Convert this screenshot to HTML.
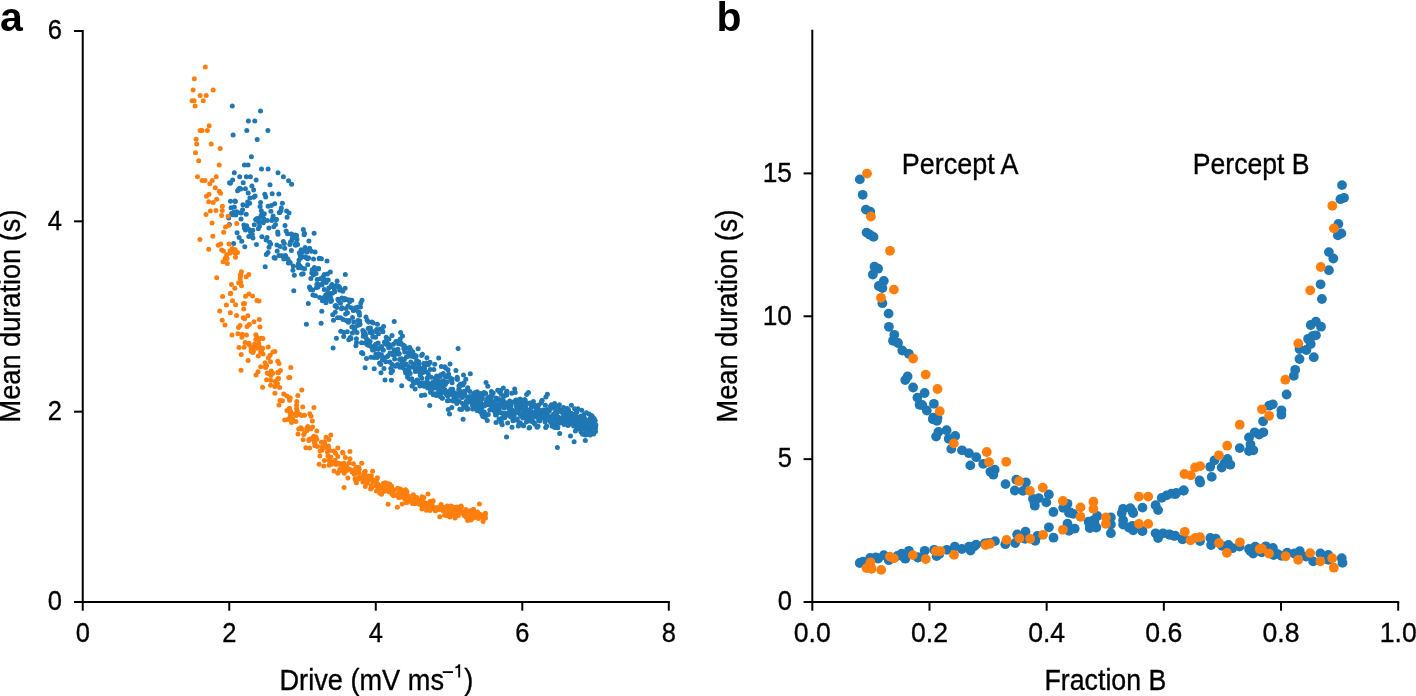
<!DOCTYPE html>
<html><head><meta charset="utf-8"><style>
html,body{margin:0;padding:0;background:#fff;overflow:hidden;}
svg{display:block;will-change:transform;font-family:"Liberation Sans",sans-serif;}
</style></head><body>
<svg width="1416" height="696" viewBox="0 0 1416 696" font-family="Liberation Sans, sans-serif">
<rect width="1416" height="696" fill="#fff"/>
<g fill="#1f77b4"><circle cx="232.3" cy="105.9" r="2.5"/><circle cx="260.5" cy="111.0" r="2.5"/><circle cx="248.4" cy="121.0" r="2.5"/><circle cx="254.8" cy="121.0" r="2.5"/><circle cx="233.1" cy="135.1" r="2.5"/><circle cx="246.8" cy="130.5" r="2.5"/><circle cx="267.9" cy="130.5" r="2.5"/><circle cx="257.2" cy="139.5" r="2.5"/><circle cx="251.4" cy="156.8" r="2.5"/><circle cx="244.4" cy="165.1" r="2.5"/><circle cx="248.0" cy="165.1" r="2.5"/><circle cx="261.5" cy="169.1" r="2.5"/><circle cx="268.1" cy="169.1" r="2.5"/><circle cx="234.3" cy="172.7" r="2.5"/><circle cx="239.7" cy="176.7" r="2.5"/><circle cx="246.4" cy="176.7" r="2.5"/><circle cx="250.4" cy="176.7" r="2.5"/><circle cx="278.0" cy="172.7" r="2.5"/><circle cx="283.4" cy="176.7" r="2.5"/><circle cx="288.6" cy="180.8" r="2.5"/><circle cx="291.6" cy="184.2" r="2.5"/><circle cx="579.1" cy="419.8" r="2.5"/><circle cx="467.8" cy="387.7" r="2.5"/><circle cx="503.7" cy="417.5" r="2.5"/><circle cx="424.8" cy="394.9" r="2.5"/><circle cx="398.5" cy="343.7" r="2.5"/><circle cx="346.1" cy="308.5" r="2.5"/><circle cx="282.4" cy="203.2" r="2.5"/><circle cx="477.2" cy="391.8" r="2.5"/><circle cx="362.2" cy="352.7" r="2.5"/><circle cx="512.9" cy="420.7" r="2.5"/><circle cx="550.8" cy="421.6" r="2.5"/><circle cx="484.9" cy="417.3" r="2.5"/><circle cx="542.1" cy="400.2" r="2.5"/><circle cx="530.3" cy="403.0" r="2.5"/><circle cx="255.6" cy="219.5" r="2.5"/><circle cx="561.2" cy="420.3" r="2.5"/><circle cx="486.3" cy="403.7" r="2.5"/><circle cx="266.1" cy="240.1" r="2.5"/><circle cx="458.7" cy="389.6" r="2.5"/><circle cx="390.4" cy="347.1" r="2.5"/><circle cx="371.1" cy="346.4" r="2.5"/><circle cx="362.0" cy="300.2" r="2.5"/><circle cx="546.6" cy="425.9" r="2.5"/><circle cx="591.2" cy="421.1" r="2.5"/><circle cx="464.1" cy="382.7" r="2.5"/><circle cx="354.8" cy="328.9" r="2.5"/><circle cx="261.2" cy="215.2" r="2.5"/><circle cx="403.5" cy="365.8" r="2.5"/><circle cx="292.0" cy="240.1" r="2.5"/><circle cx="298.5" cy="267.8" r="2.5"/><circle cx="513.8" cy="415.8" r="2.5"/><circle cx="447.4" cy="400.8" r="2.5"/><circle cx="337.9" cy="299.3" r="2.5"/><circle cx="500.9" cy="402.8" r="2.5"/><circle cx="558.6" cy="417.3" r="2.5"/><circle cx="545.4" cy="405.2" r="2.5"/><circle cx="491.0" cy="409.5" r="2.5"/><circle cx="480.6" cy="403.1" r="2.5"/><circle cx="503.3" cy="388.0" r="2.5"/><circle cx="434.5" cy="393.8" r="2.5"/><circle cx="371.9" cy="321.9" r="2.5"/><circle cx="526.6" cy="394.4" r="2.5"/><circle cx="443.7" cy="392.1" r="2.5"/><circle cx="359.0" cy="324.7" r="2.5"/><circle cx="274.1" cy="257.5" r="2.5"/><circle cx="523.2" cy="403.7" r="2.5"/><circle cx="359.2" cy="312.5" r="2.5"/><circle cx="415.8" cy="367.7" r="2.5"/><circle cx="315.1" cy="251.9" r="2.5"/><circle cx="290.5" cy="242.0" r="2.5"/><circle cx="363.6" cy="333.6" r="2.5"/><circle cx="498.5" cy="410.6" r="2.5"/><circle cx="272.8" cy="218.5" r="2.5"/><circle cx="275.5" cy="224.4" r="2.5"/><circle cx="570.5" cy="436.0" r="2.5"/><circle cx="472.8" cy="398.6" r="2.5"/><circle cx="405.1" cy="370.2" r="2.5"/><circle cx="528.7" cy="414.0" r="2.5"/><circle cx="274.7" cy="203.7" r="2.5"/><circle cx="506.7" cy="395.1" r="2.5"/><circle cx="595.5" cy="428.1" r="2.5"/><circle cx="497.8" cy="405.6" r="2.5"/><circle cx="453.8" cy="398.8" r="2.5"/><circle cx="518.3" cy="425.9" r="2.5"/><circle cx="438.3" cy="387.4" r="2.5"/><circle cx="338.4" cy="285.9" r="2.5"/><circle cx="451.3" cy="380.0" r="2.5"/><circle cx="295.1" cy="244.4" r="2.5"/><circle cx="552.1" cy="426.3" r="2.5"/><circle cx="270.9" cy="211.2" r="2.5"/><circle cx="577.3" cy="417.0" r="2.5"/><circle cx="402.2" cy="362.8" r="2.5"/><circle cx="261.3" cy="210.8" r="2.5"/><circle cx="528.5" cy="410.1" r="2.5"/><circle cx="264.3" cy="213.8" r="2.5"/><circle cx="506.5" cy="437.1" r="2.5"/><circle cx="534.4" cy="406.6" r="2.5"/><circle cx="540.8" cy="411.0" r="2.5"/><circle cx="406.4" cy="356.9" r="2.5"/><circle cx="269.0" cy="247.2" r="2.5"/><circle cx="292.6" cy="237.2" r="2.5"/><circle cx="230.4" cy="183.2" r="2.5"/><circle cx="516.9" cy="411.2" r="2.5"/><circle cx="593.5" cy="424.4" r="2.5"/><circle cx="349.5" cy="300.0" r="2.5"/><circle cx="334.4" cy="288.7" r="2.5"/><circle cx="298.4" cy="263.7" r="2.5"/><circle cx="532.7" cy="415.4" r="2.5"/><circle cx="588.7" cy="422.8" r="2.5"/><circle cx="505.2" cy="404.4" r="2.5"/><circle cx="402.5" cy="336.0" r="2.5"/><circle cx="405.6" cy="372.7" r="2.5"/><circle cx="516.5" cy="407.1" r="2.5"/><circle cx="424.5" cy="368.3" r="2.5"/><circle cx="427.4" cy="377.9" r="2.5"/><circle cx="323.0" cy="277.0" r="2.5"/><circle cx="348.8" cy="339.8" r="2.5"/><circle cx="526.3" cy="421.9" r="2.5"/><circle cx="574.7" cy="416.7" r="2.5"/><circle cx="527.2" cy="403.5" r="2.5"/><circle cx="574.0" cy="418.9" r="2.5"/><circle cx="563.9" cy="412.4" r="2.5"/><circle cx="370.9" cy="357.2" r="2.5"/><circle cx="331.6" cy="300.5" r="2.5"/><circle cx="397.5" cy="364.8" r="2.5"/><circle cx="566.6" cy="421.5" r="2.5"/><circle cx="575.1" cy="418.5" r="2.5"/><circle cx="565.7" cy="422.5" r="2.5"/><circle cx="495.8" cy="398.1" r="2.5"/><circle cx="373.7" cy="349.7" r="2.5"/><circle cx="379.8" cy="356.0" r="2.5"/><circle cx="415.3" cy="371.5" r="2.5"/><circle cx="346.9" cy="299.5" r="2.5"/><circle cx="484.0" cy="392.6" r="2.5"/><circle cx="457.2" cy="377.3" r="2.5"/><circle cx="507.7" cy="422.9" r="2.5"/><circle cx="373.2" cy="323.0" r="2.5"/><circle cx="585.9" cy="422.1" r="2.5"/><circle cx="392.0" cy="335.5" r="2.5"/><circle cx="582.6" cy="434.2" r="2.5"/><circle cx="533.2" cy="422.1" r="2.5"/><circle cx="361.5" cy="342.7" r="2.5"/><circle cx="374.2" cy="368.7" r="2.5"/><circle cx="557.4" cy="447.5" r="2.5"/><circle cx="573.1" cy="420.0" r="2.5"/><circle cx="258.3" cy="228.8" r="2.5"/><circle cx="507.8" cy="405.9" r="2.5"/><circle cx="303.2" cy="273.8" r="2.5"/><circle cx="375.8" cy="353.9" r="2.5"/><circle cx="392.5" cy="370.7" r="2.5"/><circle cx="580.7" cy="416.3" r="2.5"/><circle cx="493.2" cy="392.9" r="2.5"/><circle cx="461.3" cy="394.7" r="2.5"/><circle cx="369.4" cy="343.9" r="2.5"/><circle cx="342.0" cy="307.7" r="2.5"/><circle cx="510.9" cy="414.8" r="2.5"/><circle cx="561.0" cy="410.7" r="2.5"/><circle cx="560.5" cy="421.4" r="2.5"/><circle cx="585.0" cy="429.5" r="2.5"/><circle cx="232.6" cy="179.9" r="2.5"/><circle cx="410.8" cy="362.1" r="2.5"/><circle cx="392.7" cy="354.8" r="2.5"/><circle cx="420.2" cy="368.3" r="2.5"/><circle cx="541.7" cy="401.3" r="2.5"/><circle cx="484.7" cy="414.5" r="2.5"/><circle cx="360.8" cy="303.1" r="2.5"/><circle cx="443.9" cy="383.2" r="2.5"/><circle cx="297.6" cy="244.4" r="2.5"/><circle cx="413.8" cy="364.1" r="2.5"/><circle cx="265.7" cy="196.9" r="2.5"/><circle cx="253.7" cy="189.9" r="2.5"/><circle cx="509.1" cy="413.0" r="2.5"/><circle cx="264.8" cy="194.3" r="2.5"/><circle cx="512.1" cy="410.0" r="2.5"/><circle cx="539.7" cy="421.1" r="2.5"/><circle cx="595.5" cy="431.5" r="2.5"/><circle cx="514.9" cy="420.1" r="2.5"/><circle cx="584.9" cy="433.9" r="2.5"/><circle cx="542.9" cy="417.3" r="2.5"/><circle cx="400.8" cy="342.9" r="2.5"/><circle cx="541.8" cy="415.4" r="2.5"/><circle cx="530.7" cy="412.3" r="2.5"/><circle cx="572.7" cy="420.6" r="2.5"/><circle cx="231.1" cy="207.7" r="2.5"/><circle cx="342.3" cy="290.0" r="2.5"/><circle cx="294.5" cy="237.4" r="2.5"/><circle cx="510.1" cy="416.6" r="2.5"/><circle cx="358.0" cy="307.1" r="2.5"/><circle cx="229.4" cy="224.4" r="2.5"/><circle cx="267.0" cy="237.4" r="2.5"/><circle cx="329.5" cy="293.6" r="2.5"/><circle cx="339.3" cy="287.4" r="2.5"/><circle cx="479.3" cy="401.1" r="2.5"/><circle cx="351.3" cy="307.7" r="2.5"/><circle cx="561.4" cy="418.2" r="2.5"/><circle cx="327.0" cy="261.1" r="2.5"/><circle cx="569.0" cy="415.6" r="2.5"/><circle cx="338.7" cy="301.0" r="2.5"/><circle cx="412.8" cy="352.1" r="2.5"/><circle cx="319.7" cy="297.4" r="2.5"/><circle cx="394.6" cy="359.1" r="2.5"/><circle cx="576.0" cy="417.0" r="2.5"/><circle cx="460.4" cy="391.2" r="2.5"/><circle cx="505.5" cy="413.2" r="2.5"/><circle cx="472.7" cy="409.1" r="2.5"/><circle cx="489.1" cy="397.3" r="2.5"/><circle cx="510.4" cy="411.5" r="2.5"/><circle cx="538.6" cy="420.6" r="2.5"/><circle cx="534.8" cy="412.5" r="2.5"/><circle cx="516.0" cy="403.7" r="2.5"/><circle cx="459.7" cy="386.3" r="2.5"/><circle cx="494.6" cy="402.4" r="2.5"/><circle cx="423.7" cy="363.4" r="2.5"/><circle cx="537.1" cy="427.2" r="2.5"/><circle cx="309.5" cy="286.9" r="2.5"/><circle cx="283.3" cy="241.6" r="2.5"/><circle cx="471.9" cy="400.7" r="2.5"/><circle cx="494.2" cy="410.3" r="2.5"/><circle cx="511.0" cy="405.8" r="2.5"/><circle cx="583.9" cy="414.4" r="2.5"/><circle cx="585.3" cy="440.4" r="2.5"/><circle cx="553.8" cy="415.7" r="2.5"/><circle cx="349.1" cy="320.5" r="2.5"/><circle cx="288.4" cy="263.1" r="2.5"/><circle cx="430.8" cy="391.6" r="2.5"/><circle cx="584.1" cy="427.0" r="2.5"/><circle cx="551.9" cy="423.6" r="2.5"/><circle cx="441.5" cy="393.2" r="2.5"/><circle cx="499.3" cy="408.4" r="2.5"/><circle cx="518.0" cy="411.9" r="2.5"/><circle cx="312.6" cy="290.0" r="2.5"/><circle cx="554.6" cy="403.5" r="2.5"/><circle cx="478.2" cy="397.2" r="2.5"/><circle cx="345.1" cy="288.3" r="2.5"/><circle cx="385.0" cy="379.9" r="2.5"/><circle cx="318.6" cy="268.4" r="2.5"/><circle cx="424.1" cy="386.3" r="2.5"/><circle cx="519.1" cy="405.9" r="2.5"/><circle cx="585.6" cy="435.1" r="2.5"/><circle cx="337.1" cy="281.0" r="2.5"/><circle cx="413.5" cy="354.4" r="2.5"/><circle cx="345.3" cy="274.6" r="2.5"/><circle cx="509.7" cy="401.0" r="2.5"/><circle cx="525.7" cy="412.2" r="2.5"/><circle cx="584.6" cy="423.7" r="2.5"/><circle cx="412.0" cy="386.1" r="2.5"/><circle cx="417.1" cy="379.9" r="2.5"/><circle cx="440.4" cy="396.7" r="2.5"/><circle cx="497.2" cy="409.1" r="2.5"/><circle cx="305.8" cy="257.5" r="2.5"/><circle cx="594.5" cy="420.7" r="2.5"/><circle cx="491.4" cy="391.4" r="2.5"/><circle cx="498.3" cy="398.7" r="2.5"/><circle cx="276.1" cy="219.6" r="2.5"/><circle cx="425.3" cy="382.9" r="2.5"/><circle cx="377.4" cy="324.3" r="2.5"/><circle cx="520.9" cy="400.1" r="2.5"/><circle cx="518.6" cy="413.1" r="2.5"/><circle cx="492.0" cy="395.5" r="2.5"/><circle cx="454.2" cy="396.7" r="2.5"/><circle cx="276.4" cy="219.4" r="2.5"/><circle cx="503.5" cy="401.1" r="2.5"/><circle cx="333.5" cy="320.3" r="2.5"/><circle cx="452.6" cy="389.3" r="2.5"/><circle cx="387.7" cy="343.4" r="2.5"/><circle cx="260.1" cy="206.4" r="2.5"/><circle cx="569.7" cy="415.3" r="2.5"/><circle cx="556.5" cy="418.9" r="2.5"/><circle cx="488.2" cy="404.7" r="2.5"/><circle cx="434.7" cy="364.2" r="2.5"/><circle cx="350.0" cy="338.7" r="2.5"/><circle cx="540.5" cy="416.3" r="2.5"/><circle cx="421.1" cy="382.9" r="2.5"/><circle cx="413.1" cy="381.6" r="2.5"/><circle cx="536.3" cy="414.4" r="2.5"/><circle cx="418.1" cy="348.8" r="2.5"/><circle cx="592.1" cy="416.0" r="2.5"/><circle cx="283.0" cy="256.0" r="2.5"/><circle cx="387.2" cy="344.3" r="2.5"/><circle cx="437.3" cy="393.4" r="2.5"/><circle cx="527.7" cy="420.9" r="2.5"/><circle cx="463.0" cy="385.1" r="2.5"/><circle cx="552.9" cy="418.9" r="2.5"/><circle cx="471.8" cy="398.0" r="2.5"/><circle cx="321.8" cy="311.3" r="2.5"/><circle cx="544.9" cy="420.1" r="2.5"/><circle cx="360.1" cy="324.3" r="2.5"/><circle cx="407.6" cy="377.2" r="2.5"/><circle cx="279.3" cy="212.6" r="2.5"/><circle cx="235.3" cy="201.5" r="2.5"/><circle cx="322.0" cy="284.9" r="2.5"/><circle cx="307.7" cy="264.8" r="2.5"/><circle cx="462.0" cy="397.4" r="2.5"/><circle cx="277.2" cy="250.9" r="2.5"/><circle cx="574.5" cy="408.7" r="2.5"/><circle cx="517.2" cy="407.0" r="2.5"/><circle cx="411.5" cy="356.3" r="2.5"/><circle cx="305.1" cy="247.4" r="2.5"/><circle cx="529.6" cy="427.4" r="2.5"/><circle cx="289.4" cy="261.9" r="2.5"/><circle cx="357.4" cy="325.5" r="2.5"/><circle cx="429.3" cy="363.2" r="2.5"/><circle cx="368.6" cy="322.1" r="2.5"/><circle cx="348.4" cy="322.3" r="2.5"/><circle cx="594.4" cy="430.9" r="2.5"/><circle cx="347.4" cy="312.7" r="2.5"/><circle cx="566.1" cy="419.5" r="2.5"/><circle cx="583.6" cy="423.8" r="2.5"/><circle cx="583.2" cy="428.6" r="2.5"/><circle cx="448.0" cy="369.8" r="2.5"/><circle cx="300.2" cy="255.4" r="2.5"/><circle cx="318.0" cy="286.9" r="2.5"/><circle cx="462.6" cy="403.6" r="2.5"/><circle cx="346.3" cy="320.5" r="2.5"/><circle cx="577.9" cy="408.7" r="2.5"/><circle cx="249.6" cy="203.3" r="2.5"/><circle cx="339.4" cy="286.9" r="2.5"/><circle cx="432.9" cy="382.2" r="2.5"/><circle cx="540.4" cy="414.9" r="2.5"/><circle cx="586.0" cy="425.9" r="2.5"/><circle cx="565.4" cy="412.3" r="2.5"/><circle cx="433.8" cy="369.4" r="2.5"/><circle cx="413.9" cy="383.2" r="2.5"/><circle cx="515.6" cy="411.0" r="2.5"/><circle cx="414.3" cy="356.9" r="2.5"/><circle cx="451.4" cy="393.9" r="2.5"/><circle cx="525.2" cy="400.3" r="2.5"/><circle cx="379.5" cy="363.1" r="2.5"/><circle cx="356.5" cy="342.4" r="2.5"/><circle cx="482.0" cy="398.0" r="2.5"/><circle cx="383.6" cy="326.4" r="2.5"/><circle cx="284.7" cy="248.3" r="2.5"/><circle cx="245.5" cy="230.1" r="2.5"/><circle cx="485.3" cy="405.2" r="2.5"/><circle cx="458.1" cy="348.6" r="2.5"/><circle cx="535.5" cy="416.0" r="2.5"/><circle cx="438.7" cy="357.9" r="2.5"/><circle cx="536.1" cy="406.8" r="2.5"/><circle cx="459.2" cy="401.5" r="2.5"/><circle cx="422.4" cy="354.3" r="2.5"/><circle cx="497.7" cy="390.2" r="2.5"/><circle cx="473.5" cy="395.7" r="2.5"/><circle cx="340.8" cy="331.2" r="2.5"/><circle cx="461.7" cy="409.4" r="2.5"/><circle cx="521.2" cy="405.9" r="2.5"/><circle cx="568.0" cy="425.4" r="2.5"/><circle cx="285.8" cy="256.4" r="2.5"/><circle cx="539.4" cy="415.2" r="2.5"/><circle cx="455.1" cy="397.4" r="2.5"/><circle cx="584.4" cy="418.0" r="2.5"/><circle cx="324.9" cy="297.6" r="2.5"/><circle cx="500.8" cy="422.2" r="2.5"/><circle cx="463.1" cy="419.2" r="2.5"/><circle cx="456.5" cy="400.6" r="2.5"/><circle cx="400.6" cy="332.4" r="2.5"/><circle cx="415.5" cy="355.8" r="2.5"/><circle cx="552.7" cy="418.1" r="2.5"/><circle cx="562.2" cy="418.3" r="2.5"/><circle cx="366.0" cy="317.1" r="2.5"/><circle cx="245.4" cy="188.7" r="2.5"/><circle cx="352.5" cy="317.5" r="2.5"/><circle cx="358.4" cy="311.7" r="2.5"/><circle cx="394.2" cy="321.6" r="2.5"/><circle cx="557.8" cy="427.7" r="2.5"/><circle cx="449.5" cy="414.1" r="2.5"/><circle cx="332.7" cy="314.7" r="2.5"/><circle cx="287.1" cy="217.2" r="2.5"/><circle cx="306.2" cy="249.4" r="2.5"/><circle cx="570.9" cy="415.4" r="2.5"/><circle cx="476.5" cy="400.1" r="2.5"/><circle cx="554.9" cy="413.5" r="2.5"/><circle cx="425.9" cy="371.8" r="2.5"/><circle cx="519.8" cy="403.2" r="2.5"/><circle cx="425.5" cy="384.8" r="2.5"/><circle cx="560.2" cy="422.9" r="2.5"/><circle cx="522.8" cy="417.9" r="2.5"/><circle cx="567.8" cy="418.4" r="2.5"/><circle cx="474.9" cy="404.3" r="2.5"/><circle cx="341.8" cy="297.9" r="2.5"/><circle cx="556.3" cy="410.0" r="2.5"/><circle cx="389.4" cy="346.5" r="2.5"/><circle cx="311.5" cy="251.3" r="2.5"/><circle cx="592.4" cy="422.6" r="2.5"/><circle cx="344.8" cy="298.4" r="2.5"/><circle cx="450.7" cy="390.2" r="2.5"/><circle cx="351.9" cy="327.0" r="2.5"/><circle cx="291.4" cy="250.6" r="2.5"/><circle cx="428.2" cy="364.7" r="2.5"/><circle cx="399.6" cy="359.5" r="2.5"/><circle cx="540.0" cy="410.6" r="2.5"/><circle cx="570.1" cy="417.3" r="2.5"/><circle cx="422.5" cy="372.2" r="2.5"/><circle cx="501.9" cy="412.9" r="2.5"/><circle cx="343.7" cy="336.5" r="2.5"/><circle cx="557.6" cy="427.1" r="2.5"/><circle cx="590.4" cy="427.5" r="2.5"/><circle cx="350.3" cy="337.4" r="2.5"/><circle cx="464.8" cy="392.9" r="2.5"/><circle cx="276.9" cy="244.9" r="2.5"/><circle cx="512.6" cy="418.1" r="2.5"/><circle cx="545.9" cy="397.0" r="2.5"/><circle cx="450.2" cy="391.6" r="2.5"/><circle cx="487.8" cy="386.2" r="2.5"/><circle cx="593.8" cy="424.5" r="2.5"/><circle cx="576.5" cy="428.9" r="2.5"/><circle cx="404.7" cy="351.9" r="2.5"/><circle cx="293.8" cy="290.7" r="2.5"/><circle cx="502.5" cy="417.5" r="2.5"/><circle cx="343.9" cy="332.5" r="2.5"/><circle cx="242.9" cy="204.7" r="2.5"/><circle cx="555.9" cy="424.8" r="2.5"/><circle cx="408.0" cy="348.3" r="2.5"/><circle cx="389.8" cy="362.1" r="2.5"/><circle cx="314.1" cy="233.3" r="2.5"/><circle cx="562.9" cy="422.1" r="2.5"/><circle cx="570.3" cy="422.7" r="2.5"/><circle cx="239.1" cy="237.4" r="2.5"/><circle cx="465.2" cy="406.4" r="2.5"/><circle cx="324.3" cy="274.5" r="2.5"/><circle cx="481.9" cy="413.9" r="2.5"/><circle cx="513.6" cy="415.1" r="2.5"/><circle cx="265.2" cy="266.7" r="2.5"/><circle cx="442.4" cy="398.3" r="2.5"/><circle cx="422.9" cy="382.9" r="2.5"/><circle cx="372.5" cy="349.9" r="2.5"/><circle cx="499.7" cy="402.1" r="2.5"/><circle cx="285.4" cy="255.6" r="2.5"/><circle cx="231.7" cy="213.5" r="2.5"/><circle cx="314.4" cy="267.5" r="2.5"/><circle cx="230.5" cy="201.3" r="2.5"/><circle cx="243.9" cy="225.0" r="2.5"/><circle cx="537.3" cy="416.2" r="2.5"/><circle cx="341.5" cy="308.7" r="2.5"/><circle cx="475.9" cy="401.2" r="2.5"/><circle cx="351.0" cy="338.5" r="2.5"/><circle cx="335.1" cy="306.0" r="2.5"/><circle cx="430.2" cy="369.4" r="2.5"/><circle cx="490.2" cy="405.1" r="2.5"/><circle cx="312.9" cy="295.0" r="2.5"/><circle cx="297.0" cy="239.3" r="2.5"/><circle cx="519.6" cy="409.3" r="2.5"/><circle cx="482.3" cy="398.8" r="2.5"/><circle cx="241.4" cy="212.9" r="2.5"/><circle cx="286.1" cy="230.9" r="2.5"/><circle cx="455.5" cy="393.7" r="2.5"/><circle cx="496.0" cy="422.6" r="2.5"/><circle cx="562.7" cy="412.6" r="2.5"/><circle cx="431.6" cy="388.8" r="2.5"/><circle cx="590.9" cy="415.2" r="2.5"/><circle cx="362.9" cy="353.8" r="2.5"/><circle cx="473.6" cy="394.4" r="2.5"/><circle cx="485.5" cy="404.0" r="2.5"/><circle cx="504.7" cy="417.8" r="2.5"/><circle cx="527.5" cy="418.7" r="2.5"/><circle cx="520.1" cy="398.9" r="2.5"/><circle cx="246.6" cy="225.8" r="2.5"/><circle cx="522.1" cy="408.9" r="2.5"/><circle cx="578.7" cy="425.0" r="2.5"/><circle cx="405.7" cy="364.0" r="2.5"/><circle cx="591.5" cy="428.3" r="2.5"/><circle cx="325.1" cy="279.7" r="2.5"/><circle cx="233.6" cy="243.4" r="2.5"/><circle cx="587.2" cy="430.1" r="2.5"/><circle cx="524.7" cy="399.5" r="2.5"/><circle cx="524.3" cy="407.7" r="2.5"/><circle cx="237.6" cy="190.7" r="2.5"/><circle cx="423.2" cy="372.2" r="2.5"/><circle cx="435.6" cy="377.7" r="2.5"/><circle cx="301.9" cy="268.1" r="2.5"/><circle cx="268.9" cy="228.1" r="2.5"/><circle cx="249.9" cy="198.0" r="2.5"/><circle cx="421.6" cy="355.6" r="2.5"/><circle cx="345.6" cy="314.0" r="2.5"/><circle cx="432.6" cy="383.1" r="2.5"/><circle cx="544.1" cy="410.2" r="2.5"/><circle cx="507.4" cy="402.8" r="2.5"/><circle cx="384.5" cy="342.0" r="2.5"/><circle cx="459.8" cy="409.2" r="2.5"/><circle cx="457.0" cy="393.9" r="2.5"/><circle cx="524.4" cy="416.2" r="2.5"/><circle cx="530.4" cy="409.8" r="2.5"/><circle cx="556.8" cy="413.5" r="2.5"/><circle cx="519.5" cy="403.5" r="2.5"/><circle cx="355.9" cy="345.8" r="2.5"/><circle cx="547.4" cy="394.3" r="2.5"/><circle cx="437.5" cy="388.6" r="2.5"/><circle cx="268.0" cy="252.6" r="2.5"/><circle cx="578.4" cy="419.5" r="2.5"/><circle cx="541.1" cy="402.9" r="2.5"/><circle cx="285.0" cy="225.5" r="2.5"/><circle cx="466.0" cy="405.4" r="2.5"/><circle cx="517.7" cy="400.3" r="2.5"/><circle cx="439.2" cy="392.8" r="2.5"/><circle cx="316.9" cy="284.3" r="2.5"/><circle cx="343.1" cy="319.4" r="2.5"/><circle cx="431.7" cy="387.1" r="2.5"/><circle cx="515.2" cy="392.5" r="2.5"/><circle cx="281.4" cy="255.8" r="2.5"/><circle cx="448.9" cy="395.0" r="2.5"/><circle cx="443.3" cy="373.5" r="2.5"/><circle cx="384.0" cy="368.5" r="2.5"/><circle cx="238.6" cy="189.3" r="2.5"/><circle cx="280.9" cy="210.8" r="2.5"/><circle cx="535.2" cy="405.5" r="2.5"/><circle cx="492.9" cy="407.7" r="2.5"/><circle cx="531.3" cy="406.8" r="2.5"/><circle cx="445.4" cy="384.5" r="2.5"/><circle cx="531.8" cy="404.0" r="2.5"/><circle cx="517.3" cy="419.0" r="2.5"/><circle cx="351.8" cy="300.2" r="2.5"/><circle cx="304.1" cy="234.8" r="2.5"/><circle cx="330.7" cy="298.1" r="2.5"/><circle cx="526.8" cy="414.6" r="2.5"/><circle cx="491.1" cy="395.5" r="2.5"/><circle cx="382.4" cy="360.1" r="2.5"/><circle cx="300.0" cy="266.0" r="2.5"/><circle cx="329.8" cy="296.0" r="2.5"/><circle cx="320.7" cy="284.5" r="2.5"/><circle cx="305.4" cy="256.8" r="2.5"/><circle cx="573.4" cy="424.1" r="2.5"/><circle cx="386.2" cy="341.2" r="2.5"/><circle cx="564.7" cy="421.9" r="2.5"/><circle cx="299.0" cy="260.1" r="2.5"/><circle cx="382.9" cy="331.8" r="2.5"/><circle cx="514.7" cy="389.1" r="2.5"/><circle cx="271.7" cy="220.5" r="2.5"/><circle cx="323.6" cy="281.9" r="2.5"/><circle cx="448.3" cy="409.4" r="2.5"/><circle cx="582.0" cy="422.2" r="2.5"/><circle cx="444.2" cy="381.4" r="2.5"/><circle cx="554.2" cy="407.3" r="2.5"/><circle cx="289.0" cy="213.0" r="2.5"/><circle cx="548.7" cy="411.2" r="2.5"/><circle cx="426.6" cy="364.7" r="2.5"/><circle cx="419.6" cy="369.9" r="2.5"/><circle cx="325.9" cy="302.8" r="2.5"/><circle cx="293.2" cy="265.9" r="2.5"/><circle cx="445.2" cy="376.5" r="2.5"/><circle cx="478.9" cy="404.1" r="2.5"/><circle cx="561.8" cy="410.6" r="2.5"/><circle cx="589.0" cy="414.0" r="2.5"/><circle cx="590.6" cy="429.1" r="2.5"/><circle cx="279.7" cy="212.5" r="2.5"/><circle cx="377.1" cy="357.4" r="2.5"/><circle cx="471.0" cy="401.5" r="2.5"/><circle cx="537.8" cy="407.5" r="2.5"/><circle cx="367.6" cy="340.0" r="2.5"/><circle cx="488.3" cy="414.6" r="2.5"/><circle cx="237.1" cy="232.8" r="2.5"/><circle cx="408.5" cy="352.7" r="2.5"/><circle cx="423.9" cy="367.3" r="2.5"/><circle cx="440.1" cy="376.4" r="2.5"/><circle cx="403.8" cy="348.4" r="2.5"/><circle cx="295.7" cy="245.3" r="2.5"/><circle cx="234.3" cy="207.1" r="2.5"/><circle cx="427.7" cy="388.0" r="2.5"/><circle cx="567.5" cy="416.6" r="2.5"/><circle cx="335.2" cy="312.2" r="2.5"/><circle cx="270.6" cy="244.1" r="2.5"/><circle cx="554.7" cy="427.5" r="2.5"/><circle cx="372.9" cy="337.1" r="2.5"/><circle cx="539.3" cy="411.0" r="2.5"/><circle cx="386.3" cy="337.3" r="2.5"/><circle cx="297.7" cy="266.2" r="2.5"/><circle cx="468.9" cy="400.4" r="2.5"/><circle cx="374.0" cy="357.5" r="2.5"/><circle cx="509.6" cy="405.2" r="2.5"/><circle cx="301.1" cy="249.8" r="2.5"/><circle cx="353.3" cy="310.5" r="2.5"/><circle cx="439.5" cy="382.6" r="2.5"/><circle cx="436.7" cy="376.1" r="2.5"/><circle cx="458.9" cy="385.9" r="2.5"/><circle cx="376.6" cy="329.6" r="2.5"/><circle cx="256.4" cy="244.4" r="2.5"/><circle cx="513.2" cy="412.1" r="2.5"/><circle cx="410.2" cy="373.4" r="2.5"/><circle cx="555.8" cy="406.7" r="2.5"/><circle cx="587.6" cy="429.1" r="2.5"/><circle cx="455.9" cy="370.5" r="2.5"/><circle cx="566.0" cy="420.2" r="2.5"/><circle cx="481.7" cy="408.1" r="2.5"/><circle cx="334.7" cy="291.7" r="2.5"/><circle cx="364.1" cy="331.9" r="2.5"/><circle cx="335.8" cy="305.5" r="2.5"/><circle cx="244.8" cy="246.7" r="2.5"/><circle cx="450.0" cy="363.9" r="2.5"/><circle cx="296.6" cy="235.5" r="2.5"/><circle cx="500.5" cy="390.5" r="2.5"/><circle cx="454.4" cy="392.8" r="2.5"/><circle cx="436.2" cy="395.5" r="2.5"/><circle cx="587.8" cy="430.3" r="2.5"/><circle cx="466.8" cy="402.8" r="2.5"/><circle cx="558.5" cy="418.7" r="2.5"/><circle cx="371.7" cy="330.9" r="2.5"/><circle cx="502.2" cy="424.8" r="2.5"/><circle cx="402.7" cy="367.4" r="2.5"/><circle cx="416.7" cy="360.4" r="2.5"/><circle cx="357.0" cy="332.4" r="2.5"/><circle cx="549.3" cy="411.1" r="2.5"/><circle cx="484.3" cy="411.9" r="2.5"/><circle cx="449.0" cy="400.6" r="2.5"/><circle cx="367.4" cy="344.8" r="2.5"/><circle cx="380.1" cy="328.9" r="2.5"/><circle cx="491.6" cy="401.2" r="2.5"/><circle cx="487.0" cy="415.1" r="2.5"/><circle cx="551.0" cy="417.1" r="2.5"/><circle cx="569.3" cy="424.1" r="2.5"/><circle cx="349.7" cy="301.7" r="2.5"/><circle cx="398.8" cy="354.2" r="2.5"/><circle cx="390.0" cy="353.0" r="2.5"/><circle cx="496.3" cy="400.1" r="2.5"/><circle cx="542.7" cy="411.1" r="2.5"/><circle cx="551.4" cy="404.8" r="2.5"/><circle cx="518.9" cy="422.6" r="2.5"/><circle cx="470.6" cy="400.9" r="2.5"/><circle cx="403.3" cy="345.1" r="2.5"/><circle cx="477.0" cy="410.4" r="2.5"/><circle cx="302.2" cy="256.5" r="2.5"/><circle cx="559.2" cy="422.0" r="2.5"/><circle cx="577.6" cy="419.8" r="2.5"/><circle cx="474.3" cy="393.1" r="2.5"/><circle cx="452.1" cy="382.8" r="2.5"/><circle cx="458.5" cy="396.2" r="2.5"/><circle cx="548.2" cy="418.4" r="2.5"/><circle cx="575.0" cy="424.5" r="2.5"/><circle cx="411.8" cy="378.7" r="2.5"/><circle cx="324.3" cy="289.6" r="2.5"/><circle cx="451.8" cy="407.5" r="2.5"/><circle cx="479.9" cy="411.4" r="2.5"/><circle cx="562.2" cy="419.9" r="2.5"/><circle cx="320.4" cy="278.8" r="2.5"/><circle cx="475.2" cy="396.6" r="2.5"/><circle cx="575.6" cy="413.2" r="2.5"/><circle cx="321.4" cy="258.7" r="2.5"/><circle cx="409.6" cy="378.9" r="2.5"/><circle cx="287.9" cy="258.9" r="2.5"/><circle cx="508.5" cy="404.3" r="2.5"/><circle cx="482.8" cy="416.3" r="2.5"/><circle cx="594.8" cy="430.6" r="2.5"/><circle cx="352.9" cy="326.8" r="2.5"/><circle cx="239.8" cy="188.2" r="2.5"/><circle cx="502.8" cy="405.8" r="2.5"/><circle cx="577.0" cy="423.3" r="2.5"/><circle cx="538.1" cy="426.2" r="2.5"/><circle cx="487.3" cy="420.4" r="2.5"/><circle cx="241.0" cy="219.0" r="2.5"/><circle cx="514.1" cy="415.1" r="2.5"/><circle cx="417.9" cy="382.8" r="2.5"/><circle cx="304.4" cy="233.3" r="2.5"/><circle cx="356.4" cy="338.7" r="2.5"/><circle cx="522.7" cy="425.3" r="2.5"/><circle cx="462.3" cy="392.4" r="2.5"/><circle cx="515.8" cy="399.9" r="2.5"/><circle cx="262.8" cy="222.0" r="2.5"/><circle cx="401.7" cy="385.8" r="2.5"/><circle cx="248.5" cy="229.1" r="2.5"/><circle cx="578.3" cy="427.5" r="2.5"/><circle cx="507.0" cy="391.3" r="2.5"/><circle cx="489.0" cy="399.8" r="2.5"/><circle cx="259.5" cy="226.3" r="2.5"/><circle cx="332.4" cy="293.2" r="2.5"/><circle cx="271.4" cy="205.5" r="2.5"/><circle cx="479.6" cy="406.6" r="2.5"/><circle cx="253.9" cy="197.2" r="2.5"/><circle cx="257.8" cy="220.0" r="2.5"/><circle cx="286.6" cy="211.1" r="2.5"/><circle cx="336.9" cy="307.5" r="2.5"/><circle cx="302.6" cy="251.7" r="2.5"/><circle cx="313.4" cy="275.1" r="2.5"/><circle cx="430.0" cy="362.3" r="2.5"/><circle cx="430.6" cy="392.5" r="2.5"/><circle cx="470.9" cy="401.9" r="2.5"/><circle cx="362.8" cy="330.4" r="2.5"/><circle cx="316.0" cy="273.4" r="2.5"/><circle cx="510.7" cy="406.7" r="2.5"/><circle cx="591.7" cy="432.0" r="2.5"/><circle cx="549.1" cy="416.6" r="2.5"/><circle cx="456.1" cy="399.9" r="2.5"/><circle cx="277.7" cy="232.0" r="2.5"/><circle cx="393.0" cy="353.3" r="2.5"/><circle cx="432.1" cy="388.9" r="2.5"/><circle cx="482.7" cy="395.0" r="2.5"/><circle cx="248.8" cy="236.4" r="2.5"/><circle cx="419.2" cy="371.7" r="2.5"/><circle cx="421.4" cy="395.5" r="2.5"/><circle cx="593.6" cy="433.9" r="2.5"/><circle cx="407.2" cy="374.2" r="2.5"/><circle cx="352.4" cy="333.0" r="2.5"/><circle cx="291.7" cy="234.3" r="2.5"/><circle cx="391.1" cy="372.8" r="2.5"/><circle cx="582.4" cy="423.8" r="2.5"/><circle cx="417.5" cy="380.2" r="2.5"/><circle cx="396.9" cy="365.1" r="2.5"/><circle cx="441.3" cy="366.4" r="2.5"/><circle cx="414.6" cy="368.0" r="2.5"/><circle cx="496.8" cy="410.1" r="2.5"/><circle cx="392.0" cy="364.3" r="2.5"/><circle cx="489.4" cy="402.0" r="2.5"/><circle cx="453.1" cy="400.9" r="2.5"/><circle cx="369.8" cy="332.5" r="2.5"/><circle cx="281.3" cy="208.0" r="2.5"/><circle cx="501.4" cy="421.5" r="2.5"/><circle cx="558.9" cy="409.1" r="2.5"/><circle cx="412.4" cy="366.7" r="2.5"/><circle cx="336.2" cy="285.6" r="2.5"/><circle cx="533.7" cy="412.6" r="2.5"/><circle cx="232.0" cy="213.5" r="2.5"/><circle cx="500.0" cy="412.6" r="2.5"/><circle cx="299.4" cy="252.7" r="2.5"/><circle cx="337.5" cy="317.8" r="2.5"/><circle cx="390.8" cy="368.5" r="2.5"/><circle cx="248.2" cy="192.9" r="2.5"/><circle cx="453.5" cy="395.1" r="2.5"/><circle cx="382.8" cy="349.6" r="2.5"/><circle cx="387.4" cy="344.7" r="2.5"/><circle cx="572.9" cy="418.4" r="2.5"/><circle cx="420.8" cy="371.9" r="2.5"/><circle cx="327.4" cy="274.1" r="2.5"/><circle cx="592.6" cy="421.0" r="2.5"/><circle cx="579.7" cy="420.6" r="2.5"/><circle cx="576.7" cy="412.3" r="2.5"/><circle cx="486.5" cy="401.3" r="2.5"/><circle cx="465.8" cy="379.2" r="2.5"/><circle cx="409.7" cy="347.5" r="2.5"/><circle cx="579.5" cy="419.0" r="2.5"/><circle cx="306.4" cy="324.3" r="2.5"/><circle cx="467.1" cy="409.2" r="2.5"/><circle cx="469.7" cy="396.6" r="2.5"/><circle cx="269.6" cy="242.2" r="2.5"/><circle cx="429.0" cy="383.8" r="2.5"/><circle cx="394.0" cy="349.8" r="2.5"/><circle cx="486.0" cy="382.4" r="2.5"/><circle cx="301.6" cy="274.2" r="2.5"/><circle cx="593.1" cy="426.9" r="2.5"/><circle cx="360.5" cy="307.1" r="2.5"/><circle cx="548.4" cy="419.6" r="2.5"/><circle cx="505.9" cy="415.5" r="2.5"/><circle cx="407.6" cy="356.6" r="2.5"/><circle cx="385.7" cy="361.8" r="2.5"/><circle cx="499.7" cy="392.3" r="2.5"/><circle cx="364.5" cy="332.8" r="2.5"/><circle cx="480.9" cy="402.3" r="2.5"/><circle cx="526.0" cy="417.3" r="2.5"/><circle cx="310.9" cy="278.6" r="2.5"/><circle cx="295.4" cy="235.1" r="2.5"/><circle cx="369.1" cy="345.6" r="2.5"/><circle cx="490.7" cy="398.8" r="2.5"/><circle cx="429.7" cy="405.6" r="2.5"/><circle cx="329.2" cy="296.9" r="2.5"/><circle cx="494.9" cy="412.0" r="2.5"/><circle cx="436.4" cy="382.9" r="2.5"/><circle cx="307.6" cy="258.7" r="2.5"/><circle cx="496.4" cy="414.7" r="2.5"/><circle cx="549.8" cy="418.5" r="2.5"/><circle cx="559.7" cy="433.4" r="2.5"/><circle cx="532.3" cy="420.2" r="2.5"/><circle cx="374.9" cy="345.3" r="2.5"/><circle cx="325.7" cy="294.9" r="2.5"/><circle cx="498.8" cy="407.1" r="2.5"/><circle cx="589.8" cy="419.1" r="2.5"/><circle cx="446.6" cy="377.0" r="2.5"/><circle cx="523.5" cy="413.0" r="2.5"/><circle cx="304.6" cy="268.8" r="2.5"/><circle cx="367.1" cy="320.2" r="2.5"/><circle cx="240.3" cy="212.7" r="2.5"/><circle cx="258.8" cy="222.2" r="2.5"/><circle cx="471.5" cy="400.9" r="2.5"/><circle cx="449.7" cy="377.4" r="2.5"/><circle cx="357.8" cy="320.5" r="2.5"/><circle cx="308.3" cy="303.4" r="2.5"/><circle cx="252.8" cy="230.2" r="2.5"/><circle cx="250.9" cy="234.9" r="2.5"/><circle cx="512.0" cy="427.3" r="2.5"/><circle cx="406.8" cy="370.1" r="2.5"/><circle cx="375.5" cy="337.2" r="2.5"/><circle cx="445.8" cy="368.3" r="2.5"/><circle cx="240.7" cy="188.9" r="2.5"/><circle cx="396.5" cy="341.6" r="2.5"/><circle cx="386.7" cy="356.9" r="2.5"/><circle cx="246.2" cy="214.3" r="2.5"/><circle cx="563.6" cy="407.4" r="2.5"/><circle cx="575.4" cy="430.9" r="2.5"/><circle cx="292.9" cy="270.3" r="2.5"/><circle cx="252.3" cy="234.5" r="2.5"/><circle cx="399.9" cy="367.2" r="2.5"/><circle cx="469.9" cy="391.5" r="2.5"/><circle cx="262.5" cy="214.4" r="2.5"/><circle cx="565.2" cy="416.2" r="2.5"/><circle cx="381.4" cy="354.8" r="2.5"/><circle cx="278.9" cy="255.4" r="2.5"/><circle cx="308.6" cy="257.9" r="2.5"/><circle cx="520.4" cy="423.0" r="2.5"/><circle cx="572.3" cy="423.2" r="2.5"/><circle cx="254.3" cy="224.8" r="2.5"/><circle cx="300.9" cy="257.7" r="2.5"/><circle cx="309.6" cy="248.2" r="2.5"/><circle cx="253.0" cy="238.1" r="2.5"/><circle cx="278.0" cy="234.3" r="2.5"/><circle cx="560.8" cy="411.5" r="2.5"/><circle cx="547.0" cy="416.1" r="2.5"/><circle cx="581.4" cy="420.1" r="2.5"/><circle cx="408.7" cy="366.6" r="2.5"/><circle cx="420.3" cy="375.4" r="2.5"/><circle cx="508.6" cy="408.0" r="2.5"/><circle cx="354.5" cy="329.0" r="2.5"/><circle cx="501.4" cy="394.4" r="2.5"/><circle cx="581.7" cy="410.2" r="2.5"/><circle cx="580.1" cy="429.2" r="2.5"/><circle cx="511.6" cy="413.5" r="2.5"/><circle cx="448.6" cy="374.0" r="2.5"/><circle cx="545.7" cy="427.4" r="2.5"/><circle cx="595.2" cy="420.7" r="2.5"/><circle cx="330.3" cy="272.0" r="2.5"/><circle cx="326.6" cy="299.6" r="2.5"/><circle cx="327.9" cy="292.1" r="2.5"/><circle cx="303.3" cy="229.5" r="2.5"/><circle cx="504.2" cy="396.2" r="2.5"/><circle cx="267.2" cy="220.5" r="2.5"/><circle cx="553.3" cy="414.4" r="2.5"/><circle cx="442.9" cy="386.6" r="2.5"/><circle cx="296.4" cy="243.0" r="2.5"/><circle cx="294.3" cy="275.3" r="2.5"/><circle cx="359.7" cy="321.1" r="2.5"/><circle cx="454.9" cy="399.6" r="2.5"/><circle cx="418.6" cy="361.7" r="2.5"/><circle cx="560.0" cy="419.8" r="2.5"/><circle cx="311.8" cy="273.0" r="2.5"/><circle cx="236.7" cy="211.8" r="2.5"/><circle cx="289.8" cy="244.4" r="2.5"/><circle cx="409.0" cy="370.0" r="2.5"/><circle cx="589.0" cy="420.3" r="2.5"/><circle cx="433.2" cy="386.5" r="2.5"/><circle cx="574.1" cy="441.7" r="2.5"/><circle cx="559.4" cy="404.7" r="2.5"/><circle cx="438.2" cy="380.5" r="2.5"/><circle cx="397.9" cy="349.3" r="2.5"/><circle cx="333.1" cy="347.9" r="2.5"/><circle cx="256.1" cy="180.0" r="2.5"/><circle cx="465.6" cy="396.2" r="2.5"/><circle cx="476.6" cy="408.9" r="2.5"/><circle cx="331.9" cy="284.4" r="2.5"/><circle cx="461.2" cy="392.8" r="2.5"/><circle cx="313.5" cy="258.9" r="2.5"/><circle cx="522.4" cy="400.6" r="2.5"/><circle cx="266.3" cy="254.6" r="2.5"/><circle cx="427.1" cy="381.3" r="2.5"/><circle cx="273.1" cy="216.1" r="2.5"/><circle cx="469.0" cy="399.2" r="2.5"/><circle cx="495.0" cy="410.8" r="2.5"/><circle cx="579.3" cy="428.6" r="2.5"/><circle cx="426.2" cy="363.0" r="2.5"/><circle cx="365.0" cy="343.0" r="2.5"/><circle cx="543.4" cy="409.9" r="2.5"/><circle cx="506.3" cy="392.6" r="2.5"/><circle cx="581.2" cy="417.0" r="2.5"/><circle cx="532.5" cy="416.9" r="2.5"/><circle cx="514.5" cy="411.8" r="2.5"/><circle cx="251.9" cy="186.0" r="2.5"/><circle cx="483.4" cy="416.3" r="2.5"/><circle cx="588.4" cy="425.7" r="2.5"/><circle cx="586.6" cy="422.5" r="2.5"/><circle cx="536.7" cy="409.2" r="2.5"/><circle cx="483.9" cy="406.0" r="2.5"/><circle cx="340.4" cy="303.3" r="2.5"/><circle cx="545.1" cy="422.1" r="2.5"/><circle cx="532.0" cy="414.5" r="2.5"/><circle cx="398.1" cy="364.7" r="2.5"/><circle cx="261.9" cy="236.8" r="2.5"/><circle cx="272.2" cy="193.8" r="2.5"/><circle cx="275.1" cy="258.3" r="2.5"/><circle cx="440.7" cy="374.7" r="2.5"/><circle cx="319.2" cy="258.2" r="2.5"/><circle cx="450.9" cy="389.2" r="2.5"/><circle cx="555.6" cy="411.4" r="2.5"/><circle cx="246.9" cy="205.8" r="2.5"/><circle cx="404.6" cy="346.3" r="2.5"/><circle cx="310.8" cy="289.7" r="2.5"/><circle cx="372.2" cy="333.4" r="2.5"/><circle cx="457.7" cy="401.6" r="2.5"/><circle cx="442.1" cy="398.0" r="2.5"/><circle cx="475.4" cy="392.7" r="2.5"/><circle cx="563.5" cy="413.4" r="2.5"/><circle cx="564.1" cy="424.2" r="2.5"/><circle cx="528.1" cy="413.0" r="2.5"/><circle cx="441.7" cy="385.9" r="2.5"/><circle cx="400.2" cy="339.1" r="2.5"/><circle cx="567.2" cy="408.4" r="2.5"/><circle cx="438.9" cy="389.2" r="2.5"/><circle cx="433.3" cy="394.8" r="2.5"/><circle cx="478.4" cy="394.8" r="2.5"/><circle cx="333.8" cy="287.3" r="2.5"/><circle cx="525.0" cy="412.6" r="2.5"/><circle cx="593.0" cy="427.0" r="2.5"/><circle cx="508.3" cy="412.8" r="2.5"/><circle cx="464.4" cy="391.6" r="2.5"/><circle cx="388.6" cy="347.7" r="2.5"/><circle cx="534.3" cy="422.9" r="2.5"/><circle cx="442.7" cy="380.8" r="2.5"/><circle cx="322.4" cy="300.7" r="2.5"/><circle cx="511.8" cy="393.3" r="2.5"/><circle cx="546.4" cy="417.2" r="2.5"/><circle cx="464.9" cy="391.2" r="2.5"/><circle cx="485.7" cy="393.5" r="2.5"/><circle cx="564.4" cy="424.5" r="2.5"/><circle cx="531.0" cy="421.3" r="2.5"/><circle cx="418.7" cy="364.5" r="2.5"/><circle cx="472.2" cy="405.0" r="2.5"/><circle cx="410.6" cy="353.9" r="2.5"/><circle cx="487.5" cy="398.0" r="2.5"/><circle cx="546.0" cy="413.0" r="2.5"/><circle cx="416.7" cy="362.8" r="2.5"/><circle cx="591.9" cy="427.8" r="2.5"/><circle cx="538.7" cy="405.0" r="2.5"/><circle cx="323.3" cy="297.8" r="2.5"/><circle cx="573.6" cy="426.1" r="2.5"/><circle cx="505.6" cy="405.9" r="2.5"/><circle cx="370.4" cy="327.9" r="2.5"/><circle cx="355.7" cy="307.8" r="2.5"/><circle cx="478.6" cy="400.6" r="2.5"/><circle cx="389.1" cy="344.5" r="2.5"/><circle cx="312.2" cy="269.7" r="2.5"/><circle cx="255.1" cy="195.9" r="2.5"/><circle cx="308.9" cy="240.9" r="2.5"/><circle cx="381.5" cy="346.6" r="2.5"/><circle cx="595.9" cy="425.0" r="2.5"/><circle cx="568.2" cy="420.8" r="2.5"/><circle cx="493.3" cy="407.1" r="2.5"/><circle cx="232.8" cy="214.7" r="2.5"/><circle cx="328.2" cy="280.1" r="2.5"/><circle cx="378.7" cy="353.8" r="2.5"/><circle cx="366.3" cy="338.4" r="2.5"/><circle cx="396.3" cy="352.2" r="2.5"/><circle cx="571.5" cy="413.5" r="2.5"/><circle cx="310.1" cy="288.3" r="2.5"/><circle cx="437.7" cy="385.7" r="2.5"/><circle cx="241.8" cy="241.3" r="2.5"/><circle cx="287.5" cy="233.7" r="2.5"/><circle cx="259.0" cy="218.4" r="2.5"/><circle cx="318.4" cy="268.9" r="2.5"/><circle cx="457.4" cy="379.5" r="2.5"/><circle cx="436.0" cy="383.8" r="2.5"/><circle cx="544.3" cy="413.2" r="2.5"/><circle cx="328.8" cy="288.0" r="2.5"/><circle cx="235.0" cy="201.1" r="2.5"/><circle cx="250.4" cy="231.5" r="2.5"/><circle cx="582.7" cy="416.3" r="2.5"/><circle cx="406.2" cy="364.4" r="2.5"/><circle cx="234.0" cy="212.0" r="2.5"/><circle cx="317.7" cy="284.6" r="2.5"/><circle cx="521.4" cy="416.0" r="2.5"/><circle cx="463.5" cy="375.0" r="2.5"/><circle cx="529.9" cy="415.5" r="2.5"/><circle cx="434.2" cy="385.3" r="2.5"/><circle cx="580.4" cy="425.7" r="2.5"/><circle cx="571.8" cy="415.5" r="2.5"/><circle cx="453.5" cy="395.4" r="2.5"/><circle cx="550.7" cy="422.2" r="2.5"/><circle cx="355.2" cy="309.9" r="2.5"/><circle cx="368.3" cy="340.9" r="2.5"/><circle cx="339.7" cy="290.2" r="2.5"/><circle cx="553.9" cy="416.9" r="2.5"/><circle cx="520.6" cy="415.3" r="2.5"/><circle cx="564.8" cy="421.7" r="2.5"/><circle cx="590.2" cy="435.0" r="2.5"/><circle cx="404.3" cy="359.5" r="2.5"/><circle cx="516.4" cy="402.0" r="2.5"/><circle cx="551.6" cy="408.3" r="2.5"/><circle cx="359.5" cy="315.2" r="2.5"/><circle cx="278.8" cy="194.0" r="2.5"/><circle cx="376.2" cy="343.9" r="2.5"/><circle cx="467.4" cy="389.5" r="2.5"/><circle cx="456.8" cy="403.5" r="2.5"/><circle cx="521.7" cy="413.9" r="2.5"/><circle cx="395.5" cy="352.8" r="2.5"/><circle cx="568.6" cy="424.5" r="2.5"/><circle cx="319.4" cy="258.7" r="2.5"/><circle cx="344.1" cy="300.1" r="2.5"/><circle cx="589.5" cy="428.5" r="2.5"/><circle cx="315.5" cy="295.7" r="2.5"/><circle cx="444.8" cy="366.7" r="2.5"/><circle cx="529.3" cy="403.3" r="2.5"/><circle cx="468.5" cy="399.9" r="2.5"/><circle cx="572.1" cy="422.9" r="2.5"/><circle cx="589.4" cy="421.9" r="2.5"/><circle cx="393.4" cy="344.2" r="2.5"/><circle cx="543.2" cy="415.8" r="2.5"/><circle cx="426.9" cy="357.8" r="2.5"/><circle cx="536.5" cy="416.9" r="2.5"/><circle cx="579.9" cy="420.6" r="2.5"/><circle cx="497.2" cy="405.5" r="2.5"/><circle cx="331.1" cy="286.6" r="2.5"/><circle cx="447.6" cy="396.0" r="2.5"/><circle cx="571.4" cy="405.2" r="2.5"/><circle cx="533.4" cy="401.6" r="2.5"/><circle cx="439.8" cy="390.1" r="2.5"/><circle cx="558.1" cy="409.0" r="2.5"/><circle cx="242.6" cy="209.8" r="2.5"/><circle cx="284.3" cy="243.6" r="2.5"/><circle cx="395.8" cy="341.8" r="2.5"/><circle cx="588.2" cy="429.9" r="2.5"/><circle cx="365.5" cy="335.0" r="2.5"/><circle cx="435.0" cy="387.7" r="2.5"/><circle cx="307.0" cy="252.0" r="2.5"/><circle cx="290.2" cy="262.7" r="2.5"/><circle cx="446.4" cy="394.4" r="2.5"/><circle cx="481.2" cy="403.8" r="2.5"/><circle cx="566.8" cy="414.2" r="2.5"/><circle cx="228.7" cy="218.1" r="2.5"/><circle cx="340.4" cy="317.7" r="2.5"/><circle cx="366.5" cy="358.5" r="2.5"/><circle cx="547.1" cy="409.5" r="2.5"/><circle cx="489.8" cy="409.9" r="2.5"/><circle cx="528.4" cy="392.6" r="2.5"/><circle cx="550.4" cy="406.6" r="2.5"/><circle cx="557.2" cy="421.5" r="2.5"/><circle cx="321.1" cy="323.2" r="2.5"/><circle cx="353.8" cy="321.9" r="2.5"/><circle cx="480.0" cy="406.6" r="2.5"/><circle cx="444.7" cy="389.5" r="2.5"/><circle cx="587.2" cy="434.3" r="2.5"/><circle cx="594.1" cy="418.6" r="2.5"/><circle cx="550.1" cy="419.9" r="2.5"/><circle cx="361.5" cy="352.8" r="2.5"/><circle cx="428.3" cy="374.1" r="2.5"/><circle cx="566.4" cy="419.2" r="2.5"/><circle cx="474.6" cy="398.8" r="2.5"/><circle cx="535.7" cy="407.8" r="2.5"/><circle cx="537.7" cy="411.7" r="2.5"/><circle cx="467.6" cy="388.9" r="2.5"/><circle cx="380.7" cy="364.6" r="2.5"/><circle cx="370.1" cy="341.5" r="2.5"/><circle cx="586.8" cy="420.8" r="2.5"/><circle cx="535.0" cy="424.2" r="2.5"/><circle cx="463.6" cy="407.5" r="2.5"/><circle cx="421.9" cy="378.2" r="2.5"/><circle cx="348.1" cy="305.9" r="2.5"/><circle cx="317.2" cy="279.4" r="2.5"/><circle cx="547.9" cy="419.1" r="2.5"/><circle cx="336.4" cy="338.2" r="2.5"/><circle cx="477.4" cy="399.7" r="2.5"/><circle cx="502.2" cy="399.4" r="2.5"/><circle cx="391.4" cy="380.3" r="2.5"/><circle cx="419.9" cy="386.1" r="2.5"/><circle cx="377.8" cy="349.0" r="2.5"/><circle cx="541.3" cy="417.4" r="2.5"/><circle cx="483.1" cy="412.3" r="2.5"/><circle cx="280.2" cy="246.6" r="2.5"/><circle cx="378.5" cy="333.7" r="2.5"/><circle cx="469.5" cy="398.8" r="2.5"/><circle cx="495.5" cy="415.1" r="2.5"/><circle cx="571.0" cy="413.4" r="2.5"/><circle cx="555.4" cy="414.0" r="2.5"/><circle cx="477.8" cy="397.0" r="2.5"/><circle cx="447.1" cy="381.9" r="2.5"/><circle cx="523.6" cy="425.7" r="2.5"/><circle cx="376.5" cy="331.8" r="2.5"/><circle cx="283.8" cy="258.9" r="2.5"/><circle cx="244.4" cy="227.9" r="2.5"/><circle cx="354.1" cy="308.8" r="2.5"/><circle cx="577.5" cy="421.8" r="2.5"/><circle cx="470.3" cy="373.7" r="2.5"/><circle cx="576.3" cy="420.4" r="2.5"/><circle cx="291.1" cy="234.0" r="2.5"/><circle cx="492.2" cy="403.9" r="2.5"/><circle cx="395.2" cy="366.2" r="2.5"/><circle cx="347.3" cy="331.8" r="2.5"/><circle cx="542.5" cy="417.5" r="2.5"/><circle cx="568.6" cy="410.0" r="2.5"/><circle cx="379.1" cy="348.3" r="2.5"/><circle cx="314.8" cy="270.2" r="2.5"/><circle cx="381.0" cy="372.7" r="2.5"/><circle cx="394.7" cy="354.8" r="2.5"/><circle cx="504.5" cy="404.7" r="2.5"/><circle cx="385.4" cy="344.0" r="2.5"/><circle cx="452.3" cy="378.9" r="2.5"/><circle cx="476.1" cy="407.6" r="2.5"/><circle cx="552.4" cy="425.6" r="2.5"/><circle cx="435.3" cy="378.4" r="2.5"/><circle cx="531.4" cy="417.4" r="2.5"/><circle cx="257.1" cy="218.6" r="2.5"/><circle cx="446.0" cy="391.2" r="2.5"/><circle cx="466.4" cy="400.9" r="2.5"/><circle cx="401.1" cy="344.2" r="2.5"/><circle cx="368.1" cy="328.4" r="2.5"/><circle cx="316.4" cy="287.7" r="2.5"/><circle cx="270.0" cy="184.7" r="2.5"/><circle cx="544.5" cy="414.5" r="2.5"/><circle cx="330.7" cy="301.5" r="2.5"/><circle cx="480.5" cy="393.5" r="2.5"/><circle cx="263.3" cy="222.7" r="2.5"/><circle cx="388.0" cy="355.7" r="2.5"/><circle cx="549.5" cy="419.0" r="2.5"/><circle cx="416.2" cy="355.9" r="2.5"/><circle cx="581.0" cy="432.0" r="2.5"/><circle cx="399.2" cy="353.4" r="2.5"/><circle cx="260.6" cy="202.5" r="2.5"/><circle cx="401.5" cy="358.7" r="2.5"/><circle cx="525.6" cy="407.0" r="2.5"/><circle cx="509.4" cy="408.1" r="2.5"/><circle cx="235.8" cy="215.1" r="2.5"/><circle cx="499.0" cy="419.1" r="2.5"/><circle cx="494.1" cy="402.0" r="2.5"/><circle cx="236.1" cy="212.6" r="2.5"/><circle cx="229.5" cy="182.8" r="2.5"/><circle cx="383.3" cy="350.3" r="2.5"/><circle cx="504.1" cy="408.1" r="2.5"/><circle cx="431.2" cy="377.3" r="2.5"/><circle cx="460.8" cy="384.0" r="2.5"/><circle cx="397.1" cy="365.7" r="2.5"/><circle cx="415.1" cy="388.9" r="2.5"/><circle cx="529.1" cy="428.0" r="2.5"/><circle cx="547.8" cy="411.3" r="2.5"/><circle cx="553.3" cy="420.4" r="2.5"/><circle cx="490.1" cy="403.7" r="2.5"/><circle cx="468.1" cy="408.8" r="2.5"/><circle cx="488.7" cy="402.8" r="2.5"/><circle cx="247.6" cy="201.9" r="2.5"/><circle cx="586.3" cy="412.7" r="2.5"/><circle cx="384.2" cy="357.7" r="2.5"/><circle cx="363.3" cy="336.3" r="2.5"/><circle cx="382.1" cy="330.0" r="2.5"/><circle cx="569.4" cy="413.0" r="2.5"/><circle cx="365.1" cy="367.8" r="2.5"/><circle cx="256.7" cy="219.9" r="2.5"/><circle cx="493.7" cy="409.2" r="2.5"/><circle cx="473.1" cy="403.4" r="2.5"/><circle cx="583.0" cy="428.9" r="2.5"/><circle cx="378.1" cy="342.9" r="2.5"/><circle cx="513.2" cy="402.0" r="2.5"/><circle cx="460.1" cy="384.4" r="2.5"/><circle cx="428.7" cy="385.6" r="2.5"/><circle cx="543.7" cy="414.9" r="2.5"/><circle cx="539.1" cy="417.7" r="2.5"/><circle cx="388.9" cy="339.1" r="2.5"/><circle cx="474.0" cy="401.3" r="2.5"/><circle cx="492.6" cy="406.4" r="2.5"/><circle cx="243.2" cy="182.8" r="2.5"/><circle cx="411.1" cy="350.1" r="2.5"/><circle cx="268.1" cy="206.2" r="2.5"/><circle cx="273.8" cy="226.8" r="2.5"/><circle cx="326.2" cy="282.5" r="2.5"/><circle cx="263.5" cy="218.2" r="2.5"/><circle cx="523.9" cy="407.9" r="2.5"/><circle cx="342.8" cy="291.3" r="2.5"/><circle cx="534.0" cy="404.9" r="2.5"/><circle cx="374.8" cy="346.9" r="2.5"/><circle cx="563.1" cy="413.7" r="2.5"/></g><g fill="#ff7f0e"><circle cx="205.3" cy="67.1" r="2.5"/><circle cx="194.3" cy="78.8" r="2.5"/><circle cx="193.1" cy="90.0" r="2.5"/><circle cx="213.2" cy="90.0" r="2.5"/><circle cx="200.1" cy="95.5" r="2.5"/><circle cx="206.2" cy="95.5" r="2.5"/><circle cx="192.1" cy="100.7" r="2.5"/><circle cx="194.1" cy="100.7" r="2.5"/><circle cx="203.3" cy="100.7" r="2.5"/><circle cx="195.1" cy="105.9" r="2.5"/><circle cx="209.2" cy="125.8" r="2.5"/><circle cx="200.1" cy="130.5" r="2.5"/><circle cx="202.1" cy="130.5" r="2.5"/><circle cx="207.4" cy="130.5" r="2.5"/><circle cx="196.1" cy="139.3" r="2.5"/><circle cx="196.7" cy="144.1" r="2.5"/><circle cx="211.2" cy="144.1" r="2.5"/><circle cx="220.2" cy="148.4" r="2.5"/><circle cx="195.5" cy="152.8" r="2.5"/><circle cx="198.7" cy="160.8" r="2.5"/><circle cx="219.2" cy="165.1" r="2.5"/><circle cx="197.5" cy="176.7" r="2.5"/><circle cx="202.1" cy="180.4" r="2.5"/><circle cx="205.1" cy="180.4" r="2.5"/><circle cx="216.2" cy="176.7" r="2.5"/><circle cx="212.2" cy="180.4" r="2.5"/><circle cx="209.8" cy="183.8" r="2.5"/><circle cx="461.2" cy="512.9" r="2.5"/><circle cx="228.6" cy="225.6" r="2.5"/><circle cx="216.7" cy="277.7" r="2.5"/><circle cx="345.3" cy="457.6" r="2.5"/><circle cx="465.8" cy="509.6" r="2.5"/><circle cx="463.4" cy="512.3" r="2.5"/><circle cx="460.1" cy="509.3" r="2.5"/><circle cx="378.5" cy="488.0" r="2.5"/><circle cx="258.8" cy="343.4" r="2.5"/><circle cx="444.0" cy="507.5" r="2.5"/><circle cx="288.9" cy="409.2" r="2.5"/><circle cx="246.2" cy="276.8" r="2.5"/><circle cx="210.3" cy="210.9" r="2.5"/><circle cx="304.5" cy="432.8" r="2.5"/><circle cx="421.9" cy="509.0" r="2.5"/><circle cx="241.9" cy="337.2" r="2.5"/><circle cx="219.3" cy="191.2" r="2.5"/><circle cx="346.7" cy="466.5" r="2.5"/><circle cx="393.6" cy="495.7" r="2.5"/><circle cx="415.1" cy="497.2" r="2.5"/><circle cx="467.0" cy="511.1" r="2.5"/><circle cx="479.2" cy="514.7" r="2.5"/><circle cx="461.0" cy="506.0" r="2.5"/><circle cx="279.6" cy="387.4" r="2.5"/><circle cx="248.8" cy="344.0" r="2.5"/><circle cx="412.2" cy="501.6" r="2.5"/><circle cx="421.4" cy="501.4" r="2.5"/><circle cx="297.3" cy="411.1" r="2.5"/><circle cx="419.9" cy="504.4" r="2.5"/><circle cx="277.7" cy="379.0" r="2.5"/><circle cx="248.8" cy="343.3" r="2.5"/><circle cx="367.8" cy="480.4" r="2.5"/><circle cx="244.1" cy="347.3" r="2.5"/><circle cx="296.6" cy="408.7" r="2.5"/><circle cx="240.2" cy="278.2" r="2.5"/><circle cx="340.5" cy="468.4" r="2.5"/><circle cx="405.4" cy="494.4" r="2.5"/><circle cx="350.0" cy="458.7" r="2.5"/><circle cx="340.0" cy="464.3" r="2.5"/><circle cx="477.5" cy="511.9" r="2.5"/><circle cx="222.2" cy="210.4" r="2.5"/><circle cx="342.3" cy="464.0" r="2.5"/><circle cx="310.4" cy="439.1" r="2.5"/><circle cx="464.2" cy="515.4" r="2.5"/><circle cx="467.0" cy="511.1" r="2.5"/><circle cx="265.5" cy="366.4" r="2.5"/><circle cx="258.0" cy="371.7" r="2.5"/><circle cx="247.8" cy="315.7" r="2.5"/><circle cx="391.5" cy="486.1" r="2.5"/><circle cx="256.9" cy="300.6" r="2.5"/><circle cx="319.9" cy="456.1" r="2.5"/><circle cx="280.4" cy="370.4" r="2.5"/><circle cx="268.7" cy="373.8" r="2.5"/><circle cx="263.0" cy="353.9" r="2.5"/><circle cx="467.7" cy="520.4" r="2.5"/><circle cx="468.8" cy="516.8" r="2.5"/><circle cx="448.5" cy="509.8" r="2.5"/><circle cx="330.8" cy="435.1" r="2.5"/><circle cx="405.3" cy="499.3" r="2.5"/><circle cx="206.5" cy="196.2" r="2.5"/><circle cx="336.0" cy="464.6" r="2.5"/><circle cx="235.3" cy="249.7" r="2.5"/><circle cx="403.6" cy="496.6" r="2.5"/><circle cx="451.4" cy="515.0" r="2.5"/><circle cx="358.8" cy="472.9" r="2.5"/><circle cx="274.8" cy="386.5" r="2.5"/><circle cx="469.5" cy="515.9" r="2.5"/><circle cx="251.1" cy="347.9" r="2.5"/><circle cx="278.5" cy="372.8" r="2.5"/><circle cx="478.4" cy="518.6" r="2.5"/><circle cx="435.4" cy="509.3" r="2.5"/><circle cx="260.5" cy="347.6" r="2.5"/><circle cx="455.9" cy="511.1" r="2.5"/><circle cx="232.3" cy="248.5" r="2.5"/><circle cx="230.3" cy="312.7" r="2.5"/><circle cx="298.7" cy="428.9" r="2.5"/><circle cx="412.0" cy="499.2" r="2.5"/><circle cx="473.9" cy="512.2" r="2.5"/><circle cx="383.5" cy="483.2" r="2.5"/><circle cx="406.9" cy="491.5" r="2.5"/><circle cx="443.0" cy="510.7" r="2.5"/><circle cx="226.1" cy="258.7" r="2.5"/><circle cx="451.1" cy="505.9" r="2.5"/><circle cx="422.0" cy="496.8" r="2.5"/><circle cx="290.2" cy="416.6" r="2.5"/><circle cx="270.6" cy="385.2" r="2.5"/><circle cx="230.2" cy="250.7" r="2.5"/><circle cx="308.8" cy="440.5" r="2.5"/><circle cx="225.2" cy="258.2" r="2.5"/><circle cx="345.2" cy="468.3" r="2.5"/><circle cx="398.2" cy="495.9" r="2.5"/><circle cx="316.8" cy="439.3" r="2.5"/><circle cx="347.9" cy="478.1" r="2.5"/><circle cx="413.3" cy="494.7" r="2.5"/><circle cx="321.4" cy="442.3" r="2.5"/><circle cx="435.4" cy="510.8" r="2.5"/><circle cx="223.7" cy="232.2" r="2.5"/><circle cx="358.7" cy="467.6" r="2.5"/><circle cx="243.2" cy="317.8" r="2.5"/><circle cx="379.1" cy="485.2" r="2.5"/><circle cx="384.2" cy="485.6" r="2.5"/><circle cx="377.3" cy="483.5" r="2.5"/><circle cx="428.6" cy="508.9" r="2.5"/><circle cx="387.3" cy="490.2" r="2.5"/><circle cx="383.4" cy="488.7" r="2.5"/><circle cx="279.0" cy="363.5" r="2.5"/><circle cx="312.4" cy="421.0" r="2.5"/><circle cx="344.1" cy="487.5" r="2.5"/><circle cx="377.4" cy="477.8" r="2.5"/><circle cx="325.4" cy="445.6" r="2.5"/><circle cx="212.1" cy="223.1" r="2.5"/><circle cx="443.9" cy="510.6" r="2.5"/><circle cx="330.1" cy="462.9" r="2.5"/><circle cx="436.0" cy="509.6" r="2.5"/><circle cx="337.8" cy="456.6" r="2.5"/><circle cx="243.7" cy="309.0" r="2.5"/><circle cx="236.8" cy="223.5" r="2.5"/><circle cx="379.8" cy="493.1" r="2.5"/><circle cx="402.1" cy="503.9" r="2.5"/><circle cx="232.5" cy="300.7" r="2.5"/><circle cx="389.7" cy="492.1" r="2.5"/><circle cx="206.0" cy="214.5" r="2.5"/><circle cx="368.1" cy="479.6" r="2.5"/><circle cx="423.6" cy="502.5" r="2.5"/><circle cx="441.8" cy="509.6" r="2.5"/><circle cx="362.9" cy="482.1" r="2.5"/><circle cx="298.0" cy="434.0" r="2.5"/><circle cx="458.9" cy="511.4" r="2.5"/><circle cx="295.9" cy="421.5" r="2.5"/><circle cx="265.1" cy="362.8" r="2.5"/><circle cx="324.6" cy="441.9" r="2.5"/><circle cx="320.1" cy="451.1" r="2.5"/><circle cx="246.5" cy="335.0" r="2.5"/><circle cx="280.0" cy="400.6" r="2.5"/><circle cx="236.5" cy="315.4" r="2.5"/><circle cx="271.2" cy="371.1" r="2.5"/><circle cx="380.6" cy="487.7" r="2.5"/><circle cx="352.1" cy="472.0" r="2.5"/><circle cx="430.1" cy="501.4" r="2.5"/><circle cx="415.8" cy="503.0" r="2.5"/><circle cx="323.9" cy="441.9" r="2.5"/><circle cx="226.4" cy="304.9" r="2.5"/><circle cx="433.7" cy="508.6" r="2.5"/><circle cx="366.3" cy="479.4" r="2.5"/><circle cx="387.5" cy="490.8" r="2.5"/><circle cx="369.0" cy="476.7" r="2.5"/><circle cx="220.7" cy="244.0" r="2.5"/><circle cx="432.3" cy="502.3" r="2.5"/><circle cx="335.5" cy="453.2" r="2.5"/><circle cx="303.1" cy="439.8" r="2.5"/><circle cx="327.9" cy="456.1" r="2.5"/><circle cx="476.2" cy="515.0" r="2.5"/><circle cx="368.0" cy="475.9" r="2.5"/><circle cx="229.0" cy="244.1" r="2.5"/><circle cx="223.1" cy="261.8" r="2.5"/><circle cx="447.3" cy="505.9" r="2.5"/><circle cx="237.9" cy="333.7" r="2.5"/><circle cx="443.4" cy="509.0" r="2.5"/><circle cx="256.0" cy="375.0" r="2.5"/><circle cx="241.0" cy="370.2" r="2.5"/><circle cx="430.5" cy="504.7" r="2.5"/><circle cx="287.9" cy="419.6" r="2.5"/><circle cx="384.1" cy="488.8" r="2.5"/><circle cx="375.8" cy="485.9" r="2.5"/><circle cx="399.9" cy="497.2" r="2.5"/><circle cx="484.8" cy="514.8" r="2.5"/><circle cx="480.1" cy="514.4" r="2.5"/><circle cx="243.4" cy="303.8" r="2.5"/><circle cx="240.3" cy="274.8" r="2.5"/><circle cx="388.8" cy="491.4" r="2.5"/><circle cx="480.1" cy="516.3" r="2.5"/><circle cx="296.0" cy="415.6" r="2.5"/><circle cx="262.7" cy="348.3" r="2.5"/><circle cx="412.6" cy="503.4" r="2.5"/><circle cx="240.7" cy="282.0" r="2.5"/><circle cx="258.6" cy="339.4" r="2.5"/><circle cx="209.0" cy="194.3" r="2.5"/><circle cx="290.2" cy="397.9" r="2.5"/><circle cx="404.3" cy="498.3" r="2.5"/><circle cx="443.7" cy="509.5" r="2.5"/><circle cx="238.7" cy="282.7" r="2.5"/><circle cx="481.4" cy="515.8" r="2.5"/><circle cx="342.6" cy="452.3" r="2.5"/><circle cx="439.7" cy="516.7" r="2.5"/><circle cx="241.2" cy="354.4" r="2.5"/><circle cx="446.3" cy="508.1" r="2.5"/><circle cx="355.1" cy="468.9" r="2.5"/><circle cx="259.0" cy="301.1" r="2.5"/><circle cx="359.3" cy="469.3" r="2.5"/><circle cx="438.7" cy="508.7" r="2.5"/><circle cx="306.7" cy="428.4" r="2.5"/><circle cx="326.1" cy="437.3" r="2.5"/><circle cx="309.8" cy="413.7" r="2.5"/><circle cx="485.2" cy="514.7" r="2.5"/><circle cx="366.5" cy="482.4" r="2.5"/><circle cx="216.7" cy="199.3" r="2.5"/><circle cx="363.3" cy="476.3" r="2.5"/><circle cx="437.3" cy="507.5" r="2.5"/><circle cx="349.9" cy="451.6" r="2.5"/><circle cx="260.8" cy="352.3" r="2.5"/><circle cx="449.6" cy="510.3" r="2.5"/><circle cx="329.0" cy="460.2" r="2.5"/><circle cx="329.7" cy="460.2" r="2.5"/><circle cx="353.5" cy="470.4" r="2.5"/><circle cx="294.9" cy="414.1" r="2.5"/><circle cx="450.4" cy="513.5" r="2.5"/><circle cx="343.0" cy="452.9" r="2.5"/><circle cx="453.7" cy="507.3" r="2.5"/><circle cx="245.1" cy="342.5" r="2.5"/><circle cx="349.8" cy="469.2" r="2.5"/><circle cx="389.1" cy="486.0" r="2.5"/><circle cx="218.3" cy="245.3" r="2.5"/><circle cx="309.1" cy="439.6" r="2.5"/><circle cx="277.4" cy="383.6" r="2.5"/><circle cx="296.8" cy="401.5" r="2.5"/><circle cx="412.8" cy="502.8" r="2.5"/><circle cx="300.7" cy="427.7" r="2.5"/><circle cx="322.0" cy="450.0" r="2.5"/><circle cx="384.7" cy="491.3" r="2.5"/><circle cx="331.6" cy="464.2" r="2.5"/><circle cx="238.5" cy="327.5" r="2.5"/><circle cx="226.6" cy="254.8" r="2.5"/><circle cx="227.1" cy="258.5" r="2.5"/><circle cx="353.4" cy="463.8" r="2.5"/><circle cx="315.0" cy="443.0" r="2.5"/><circle cx="414.5" cy="501.2" r="2.5"/><circle cx="398.7" cy="497.6" r="2.5"/><circle cx="311.1" cy="416.3" r="2.5"/><circle cx="458.2" cy="511.0" r="2.5"/><circle cx="440.3" cy="507.0" r="2.5"/><circle cx="254.6" cy="344.0" r="2.5"/><circle cx="282.4" cy="400.8" r="2.5"/><circle cx="371.3" cy="475.8" r="2.5"/><circle cx="427.8" cy="507.0" r="2.5"/><circle cx="237.5" cy="252.4" r="2.5"/><circle cx="389.4" cy="487.7" r="2.5"/><circle cx="341.9" cy="470.5" r="2.5"/><circle cx="465.1" cy="511.9" r="2.5"/><circle cx="455.0" cy="513.0" r="2.5"/><circle cx="317.5" cy="446.4" r="2.5"/><circle cx="416.6" cy="500.3" r="2.5"/><circle cx="359.3" cy="477.3" r="2.5"/><circle cx="431.9" cy="504.3" r="2.5"/><circle cx="291.5" cy="422.6" r="2.5"/><circle cx="419.3" cy="503.5" r="2.5"/><circle cx="387.7" cy="483.7" r="2.5"/><circle cx="252.8" cy="347.6" r="2.5"/><circle cx="456.1" cy="514.0" r="2.5"/><circle cx="485.4" cy="513.2" r="2.5"/><circle cx="221.6" cy="215.6" r="2.5"/><circle cx="330.8" cy="456.9" r="2.5"/><circle cx="416.8" cy="497.4" r="2.5"/><circle cx="394.6" cy="490.0" r="2.5"/><circle cx="338.3" cy="463.2" r="2.5"/><circle cx="270.1" cy="355.2" r="2.5"/><circle cx="312.7" cy="439.0" r="2.5"/><circle cx="276.6" cy="383.8" r="2.5"/><circle cx="375.9" cy="482.2" r="2.5"/><circle cx="344.1" cy="467.1" r="2.5"/><circle cx="455.3" cy="517.0" r="2.5"/><circle cx="228.1" cy="216.2" r="2.5"/><circle cx="327.5" cy="452.1" r="2.5"/><circle cx="222.2" cy="320.2" r="2.5"/><circle cx="272.9" cy="352.1" r="2.5"/><circle cx="260.7" cy="366.8" r="2.5"/><circle cx="367.1" cy="483.1" r="2.5"/><circle cx="302.7" cy="407.1" r="2.5"/><circle cx="230.3" cy="293.8" r="2.5"/><circle cx="334.1" cy="470.9" r="2.5"/><circle cx="299.8" cy="414.6" r="2.5"/><circle cx="473.1" cy="517.9" r="2.5"/><circle cx="307.1" cy="430.6" r="2.5"/><circle cx="313.6" cy="436.2" r="2.5"/><circle cx="426.4" cy="510.3" r="2.5"/><circle cx="434.1" cy="507.5" r="2.5"/><circle cx="227.3" cy="263.6" r="2.5"/><circle cx="315.9" cy="436.9" r="2.5"/><circle cx="376.7" cy="479.2" r="2.5"/><circle cx="420.1" cy="499.9" r="2.5"/><circle cx="245.5" cy="296.3" r="2.5"/><circle cx="304.5" cy="415.2" r="2.5"/><circle cx="286.9" cy="396.1" r="2.5"/><circle cx="274.9" cy="393.2" r="2.5"/><circle cx="262.9" cy="338.6" r="2.5"/><circle cx="422.6" cy="506.9" r="2.5"/><circle cx="455.4" cy="507.6" r="2.5"/><circle cx="335.0" cy="460.3" r="2.5"/><circle cx="447.4" cy="513.4" r="2.5"/><circle cx="429.5" cy="507.5" r="2.5"/><circle cx="284.7" cy="419.9" r="2.5"/><circle cx="450.0" cy="516.9" r="2.5"/><circle cx="257.6" cy="348.2" r="2.5"/><circle cx="337.8" cy="473.3" r="2.5"/><circle cx="301.6" cy="415.6" r="2.5"/><circle cx="365.2" cy="471.3" r="2.5"/><circle cx="431.2" cy="504.0" r="2.5"/><circle cx="371.1" cy="485.6" r="2.5"/><circle cx="417.3" cy="503.0" r="2.5"/><circle cx="231.5" cy="284.4" r="2.5"/><circle cx="314.8" cy="445.8" r="2.5"/><circle cx="355.0" cy="478.9" r="2.5"/><circle cx="303.7" cy="434.5" r="2.5"/><circle cx="344.3" cy="473.2" r="2.5"/><circle cx="372.4" cy="479.6" r="2.5"/><circle cx="208.7" cy="201.7" r="2.5"/><circle cx="268.2" cy="347.1" r="2.5"/><circle cx="230.7" cy="293.2" r="2.5"/><circle cx="297.8" cy="395.4" r="2.5"/><circle cx="241.5" cy="285.7" r="2.5"/><circle cx="471.0" cy="510.4" r="2.5"/><circle cx="415.1" cy="501.6" r="2.5"/><circle cx="355.1" cy="473.3" r="2.5"/><circle cx="402.1" cy="490.3" r="2.5"/><circle cx="471.0" cy="520.1" r="2.5"/><circle cx="261.3" cy="351.5" r="2.5"/><circle cx="314.4" cy="442.5" r="2.5"/><circle cx="401.5" cy="491.5" r="2.5"/><circle cx="461.4" cy="507.0" r="2.5"/><circle cx="322.4" cy="446.7" r="2.5"/><circle cx="292.7" cy="419.3" r="2.5"/><circle cx="355.0" cy="473.3" r="2.5"/><circle cx="440.9" cy="508.7" r="2.5"/><circle cx="457.4" cy="506.9" r="2.5"/><circle cx="397.4" cy="507.3" r="2.5"/><circle cx="427.0" cy="507.1" r="2.5"/><circle cx="361.7" cy="463.3" r="2.5"/><circle cx="479.0" cy="513.9" r="2.5"/><circle cx="275.1" cy="381.6" r="2.5"/><circle cx="290.7" cy="411.5" r="2.5"/><circle cx="289.4" cy="397.7" r="2.5"/><circle cx="289.5" cy="408.3" r="2.5"/><circle cx="472.7" cy="514.1" r="2.5"/><circle cx="296.5" cy="405.2" r="2.5"/><circle cx="485.5" cy="518.1" r="2.5"/><circle cx="289.6" cy="400.3" r="2.5"/><circle cx="289.8" cy="377.6" r="2.5"/><circle cx="408.4" cy="496.1" r="2.5"/><circle cx="221.7" cy="250.1" r="2.5"/><circle cx="467.6" cy="515.7" r="2.5"/><circle cx="339.5" cy="470.3" r="2.5"/><circle cx="272.7" cy="373.3" r="2.5"/><circle cx="471.7" cy="514.2" r="2.5"/><circle cx="473.5" cy="509.2" r="2.5"/><circle cx="225.5" cy="226.9" r="2.5"/><circle cx="416.9" cy="499.4" r="2.5"/><circle cx="471.8" cy="516.3" r="2.5"/><circle cx="400.3" cy="495.3" r="2.5"/><circle cx="370.6" cy="489.0" r="2.5"/><circle cx="475.8" cy="516.0" r="2.5"/><circle cx="399.1" cy="492.8" r="2.5"/><circle cx="333.8" cy="451.1" r="2.5"/><circle cx="403.9" cy="495.7" r="2.5"/><circle cx="277.8" cy="361.3" r="2.5"/><circle cx="483.1" cy="521.5" r="2.5"/><circle cx="358.8" cy="478.7" r="2.5"/><circle cx="389.7" cy="488.7" r="2.5"/><circle cx="447.1" cy="515.7" r="2.5"/><circle cx="384.6" cy="485.9" r="2.5"/><circle cx="356.8" cy="478.4" r="2.5"/><circle cx="462.1" cy="512.1" r="2.5"/><circle cx="397.0" cy="494.9" r="2.5"/><circle cx="255.5" cy="345.3" r="2.5"/><circle cx="279.0" cy="405.1" r="2.5"/><circle cx="240.8" cy="275.0" r="2.5"/><circle cx="423.8" cy="497.6" r="2.5"/><circle cx="364.6" cy="472.3" r="2.5"/><circle cx="455.0" cy="517.9" r="2.5"/><circle cx="339.6" cy="463.5" r="2.5"/><circle cx="381.5" cy="493.0" r="2.5"/><circle cx="471.3" cy="513.7" r="2.5"/><circle cx="305.9" cy="447.8" r="2.5"/><circle cx="283.7" cy="394.0" r="2.5"/><circle cx="391.3" cy="486.9" r="2.5"/><circle cx="212.8" cy="236.2" r="2.5"/><circle cx="364.0" cy="474.5" r="2.5"/><circle cx="255.8" cy="334.8" r="2.5"/><circle cx="266.5" cy="365.5" r="2.5"/><circle cx="412.8" cy="503.2" r="2.5"/><circle cx="235.5" cy="257.2" r="2.5"/><circle cx="397.7" cy="488.2" r="2.5"/><circle cx="319.1" cy="464.3" r="2.5"/><circle cx="268.3" cy="357.9" r="2.5"/><circle cx="208.7" cy="249.3" r="2.5"/><circle cx="316.8" cy="431.0" r="2.5"/><circle cx="426.7" cy="503.3" r="2.5"/><circle cx="401.7" cy="496.2" r="2.5"/><circle cx="249.2" cy="344.5" r="2.5"/><circle cx="307.8" cy="426.4" r="2.5"/><circle cx="471.2" cy="518.0" r="2.5"/><circle cx="346.8" cy="470.4" r="2.5"/><circle cx="363.9" cy="473.1" r="2.5"/><circle cx="257.4" cy="337.4" r="2.5"/><circle cx="413.8" cy="497.0" r="2.5"/><circle cx="481.2" cy="514.9" r="2.5"/><circle cx="259.3" cy="319.5" r="2.5"/><circle cx="366.4" cy="477.2" r="2.5"/><circle cx="423.5" cy="502.0" r="2.5"/><circle cx="251.2" cy="351.3" r="2.5"/><circle cx="286.9" cy="410.5" r="2.5"/><circle cx="327.8" cy="450.9" r="2.5"/><circle cx="438.2" cy="509.7" r="2.5"/><circle cx="441.0" cy="504.4" r="2.5"/><circle cx="466.0" cy="517.2" r="2.5"/><circle cx="248.1" cy="360.5" r="2.5"/><circle cx="277.7" cy="372.3" r="2.5"/><circle cx="313.9" cy="407.5" r="2.5"/><circle cx="444.5" cy="515.2" r="2.5"/><circle cx="479.4" cy="503.9" r="2.5"/><circle cx="252.6" cy="296.0" r="2.5"/><circle cx="446.7" cy="507.1" r="2.5"/><circle cx="407.3" cy="500.8" r="2.5"/><circle cx="337.8" cy="447.9" r="2.5"/><circle cx="407.8" cy="499.0" r="2.5"/><circle cx="459.7" cy="511.2" r="2.5"/><circle cx="354.2" cy="474.3" r="2.5"/><circle cx="435.3" cy="510.6" r="2.5"/><circle cx="458.3" cy="515.6" r="2.5"/><circle cx="392.6" cy="491.8" r="2.5"/><circle cx="452.3" cy="509.0" r="2.5"/><circle cx="235.5" cy="253.4" r="2.5"/><circle cx="376.4" cy="490.9" r="2.5"/><circle cx="344.2" cy="463.2" r="2.5"/><circle cx="372.6" cy="471.3" r="2.5"/><circle cx="215.3" cy="187.8" r="2.5"/><circle cx="329.0" cy="465.3" r="2.5"/><circle cx="323.8" cy="466.0" r="2.5"/><circle cx="248.9" cy="294.1" r="2.5"/><circle cx="270.7" cy="380.3" r="2.5"/><circle cx="483.5" cy="518.8" r="2.5"/><circle cx="433.2" cy="500.7" r="2.5"/><circle cx="254.0" cy="321.7" r="2.5"/><circle cx="267.3" cy="372.9" r="2.5"/><circle cx="266.6" cy="379.7" r="2.5"/><circle cx="222.4" cy="206.2" r="2.5"/><circle cx="349.1" cy="462.9" r="2.5"/><circle cx="358.5" cy="472.0" r="2.5"/><circle cx="442.1" cy="506.9" r="2.5"/><circle cx="430.7" cy="505.4" r="2.5"/><circle cx="253.6" cy="351.1" r="2.5"/><circle cx="244.6" cy="318.7" r="2.5"/><circle cx="252.7" cy="352.6" r="2.5"/><circle cx="392.1" cy="494.2" r="2.5"/><circle cx="430.1" cy="510.5" r="2.5"/><circle cx="474.5" cy="517.4" r="2.5"/><circle cx="288.8" cy="377.6" r="2.5"/><circle cx="385.3" cy="482.7" r="2.5"/><circle cx="219.7" cy="311.1" r="2.5"/><circle cx="370.1" cy="479.2" r="2.5"/><circle cx="378.8" cy="489.8" r="2.5"/><circle cx="467.9" cy="511.2" r="2.5"/><circle cx="405.6" cy="489.7" r="2.5"/><circle cx="373.0" cy="482.0" r="2.5"/><circle cx="371.5" cy="487.9" r="2.5"/><circle cx="431.8" cy="506.2" r="2.5"/><circle cx="290.8" cy="367.6" r="2.5"/><circle cx="422.8" cy="504.1" r="2.5"/><circle cx="473.9" cy="515.5" r="2.5"/><circle cx="225.0" cy="324.9" r="2.5"/><circle cx="328.5" cy="446.0" r="2.5"/><circle cx="222.6" cy="296.6" r="2.5"/><circle cx="262.6" cy="387.2" r="2.5"/><circle cx="270.9" cy="375.5" r="2.5"/><circle cx="422.6" cy="500.2" r="2.5"/><circle cx="415.2" cy="503.5" r="2.5"/><circle cx="450.0" cy="511.3" r="2.5"/><circle cx="294.6" cy="414.2" r="2.5"/><circle cx="329.7" cy="450.5" r="2.5"/><circle cx="239.0" cy="347.6" r="2.5"/><circle cx="301.8" cy="389.9" r="2.5"/><circle cx="240.0" cy="325.6" r="2.5"/><circle cx="376.0" cy="483.1" r="2.5"/><circle cx="332.6" cy="462.6" r="2.5"/><circle cx="483.0" cy="515.3" r="2.5"/><circle cx="255.8" cy="339.6" r="2.5"/><circle cx="328.2" cy="448.7" r="2.5"/><circle cx="408.4" cy="496.0" r="2.5"/><circle cx="310.8" cy="428.7" r="2.5"/><circle cx="249.3" cy="324.6" r="2.5"/><circle cx="242.3" cy="334.3" r="2.5"/><circle cx="400.3" cy="489.1" r="2.5"/><circle cx="290.0" cy="412.7" r="2.5"/><circle cx="215.9" cy="210.5" r="2.5"/><circle cx="443.9" cy="508.2" r="2.5"/><circle cx="248.8" cy="274.5" r="2.5"/><circle cx="220.6" cy="193.2" r="2.5"/><circle cx="408.4" cy="499.2" r="2.5"/><circle cx="391.5" cy="487.6" r="2.5"/><circle cx="259.9" cy="327.1" r="2.5"/><circle cx="461.7" cy="512.2" r="2.5"/><circle cx="329.0" cy="439.4" r="2.5"/><circle cx="476.9" cy="515.9" r="2.5"/><circle cx="223.4" cy="250.9" r="2.5"/><circle cx="312.2" cy="439.1" r="2.5"/><circle cx="258.3" cy="356.1" r="2.5"/><circle cx="312.6" cy="427.0" r="2.5"/><circle cx="423.0" cy="505.0" r="2.5"/><circle cx="389.6" cy="484.0" r="2.5"/><circle cx="400.9" cy="492.4" r="2.5"/><circle cx="365.3" cy="486.5" r="2.5"/><circle cx="465.1" cy="513.2" r="2.5"/><circle cx="356.4" cy="482.8" r="2.5"/><circle cx="323.9" cy="447.6" r="2.5"/><circle cx="459.3" cy="511.9" r="2.5"/><circle cx="274.9" cy="351.6" r="2.5"/><circle cx="355.9" cy="481.1" r="2.5"/><circle cx="483.3" cy="515.2" r="2.5"/><circle cx="430.3" cy="508.1" r="2.5"/><circle cx="247.0" cy="326.6" r="2.5"/><circle cx="309.6" cy="448.0" r="2.5"/><circle cx="363.2" cy="479.9" r="2.5"/><circle cx="244.6" cy="303.6" r="2.5"/><circle cx="265.6" cy="367.5" r="2.5"/><circle cx="446.7" cy="507.9" r="2.5"/><circle cx="428.0" cy="494.1" r="2.5"/><circle cx="241.4" cy="271.8" r="2.5"/><circle cx="381.5" cy="494.2" r="2.5"/><circle cx="324.4" cy="460.4" r="2.5"/><circle cx="232.0" cy="335.0" r="2.5"/><circle cx="234.8" cy="288.2" r="2.5"/><circle cx="233.6" cy="252.1" r="2.5"/><circle cx="396.0" cy="495.1" r="2.5"/><circle cx="476.2" cy="516.1" r="2.5"/><circle cx="278.6" cy="378.6" r="2.5"/><circle cx="301.8" cy="429.1" r="2.5"/><circle cx="235.6" cy="304.8" r="2.5"/><circle cx="358.3" cy="479.0" r="2.5"/><circle cx="327.7" cy="446.9" r="2.5"/><circle cx="452.8" cy="511.5" r="2.5"/><circle cx="422.5" cy="507.1" r="2.5"/><circle cx="453.0" cy="510.9" r="2.5"/><circle cx="405.9" cy="502.4" r="2.5"/><circle cx="407.5" cy="502.3" r="2.5"/><circle cx="385.9" cy="484.4" r="2.5"/><circle cx="388.1" cy="504.3" r="2.5"/><circle cx="356.5" cy="467.3" r="2.5"/><circle cx="471.7" cy="514.1" r="2.5"/><circle cx="229.9" cy="253.2" r="2.5"/><circle cx="261.5" cy="350.1" r="2.5"/><circle cx="213.2" cy="202.4" r="2.5"/><circle cx="199.9" cy="239.5" r="2.5"/><circle cx="412.3" cy="499.3" r="2.5"/><circle cx="270.5" cy="361.8" r="2.5"/><circle cx="261.4" cy="338.3" r="2.5"/></g><g fill="#1f77b4"><circle cx="859.8" cy="179.4" r="4.9"/><circle cx="862.7" cy="194.8" r="4.9"/><circle cx="865.9" cy="209.6" r="4.9"/><circle cx="870.2" cy="211.7" r="4.9"/><circle cx="866.6" cy="232.6" r="4.9"/><circle cx="869.9" cy="234.7" r="4.9"/><circle cx="873.5" cy="236.9" r="4.9"/><circle cx="874.5" cy="266.6" r="4.9"/><circle cx="878.1" cy="268.7" r="4.9"/><circle cx="872.8" cy="274.5" r="4.9"/><circle cx="883.8" cy="280.9" r="4.9"/><circle cx="878.8" cy="286.0" r="4.9"/><circle cx="882.4" cy="288.1" r="4.9"/><circle cx="882.4" cy="303.2" r="4.9"/><circle cx="888.6" cy="313.6" r="4.9"/><circle cx="888.9" cy="326.8" r="4.9"/><circle cx="894.3" cy="334.8" r="4.9"/><circle cx="893.0" cy="340.8" r="4.9"/><circle cx="898.0" cy="343.0" r="4.9"/><circle cx="902.3" cy="350.5" r="4.9"/><circle cx="908.8" cy="353.8" r="4.9"/><circle cx="907.6" cy="376.5" r="4.9"/><circle cx="905.2" cy="380.1" r="4.9"/><circle cx="913.1" cy="387.5" r="4.9"/><circle cx="924.6" cy="393.0" r="4.9"/><circle cx="917.4" cy="397.6" r="4.9"/><circle cx="919.6" cy="404.8" r="4.9"/><circle cx="933.9" cy="403.8" r="4.9"/><circle cx="926.8" cy="410.5" r="4.9"/><circle cx="933.2" cy="417.7" r="4.9"/><circle cx="937.5" cy="417.7" r="4.9"/><circle cx="922.2" cy="405.0" r="4.9"/><circle cx="932.9" cy="419.4" r="4.9"/><circle cx="937.0" cy="420.8" r="4.9"/><circle cx="938.4" cy="431.9" r="4.9"/><circle cx="946.6" cy="430.2" r="4.9"/><circle cx="936.1" cy="436.6" r="4.9"/><circle cx="948.7" cy="438.8" r="4.9"/><circle cx="955.2" cy="435.9" r="4.9"/><circle cx="951.3" cy="448.9" r="4.9"/><circle cx="962.0" cy="450.3" r="4.9"/><circle cx="968.9" cy="453.2" r="4.9"/><circle cx="976.3" cy="457.2" r="4.9"/><circle cx="970.3" cy="465.4" r="4.9"/><circle cx="983.2" cy="463.9" r="4.9"/><circle cx="994.7" cy="469.7" r="4.9"/><circle cx="990.4" cy="471.8" r="4.9"/><circle cx="993.3" cy="474.7" r="4.9"/><circle cx="1005.5" cy="484.1" r="4.9"/><circle cx="1014.8" cy="490.5" r="4.9"/><circle cx="1016.3" cy="479.7" r="4.9"/><circle cx="1025.9" cy="482.3" r="4.9"/><circle cx="1023.0" cy="490.9" r="4.9"/><circle cx="1033.0" cy="498.8" r="4.9"/><circle cx="1034.5" cy="503.1" r="4.9"/><circle cx="1038.8" cy="498.1" r="4.9"/><circle cx="1048.9" cy="494.5" r="4.9"/><circle cx="1046.3" cy="502.4" r="4.9"/><circle cx="1053.4" cy="512.0" r="4.9"/><circle cx="1067.5" cy="503.8" r="4.9"/><circle cx="1064.7" cy="507.4" r="4.9"/><circle cx="1070.4" cy="512.4" r="4.9"/><circle cx="1073.3" cy="513.9" r="4.9"/><circle cx="1093.4" cy="520.3" r="4.9"/><circle cx="1090.5" cy="526.1" r="4.9"/><circle cx="1096.3" cy="527.5" r="4.9"/><circle cx="1034.8" cy="505.7" r="4.9"/><circle cx="1063.2" cy="507.9" r="4.9"/><circle cx="1069.0" cy="512.9" r="4.9"/><circle cx="1090.0" cy="527.5" r="4.9"/><circle cx="1094.4" cy="521.7" r="4.9"/><circle cx="1088.6" cy="521.7" r="4.9"/><circle cx="1097.2" cy="516.0" r="4.9"/><circle cx="1110.9" cy="517.4" r="4.9"/><circle cx="1110.9" cy="524.6" r="4.9"/><circle cx="1110.9" cy="533.2" r="4.9"/><circle cx="1123.1" cy="508.8" r="4.9"/><circle cx="1121.7" cy="513.1" r="4.9"/><circle cx="1130.3" cy="508.1" r="4.9"/><circle cx="1133.2" cy="513.1" r="4.9"/><circle cx="1123.1" cy="520.3" r="4.9"/><circle cx="1123.1" cy="524.6" r="4.9"/><circle cx="1128.9" cy="527.5" r="4.9"/><circle cx="1133.2" cy="530.3" r="4.9"/><circle cx="1142.5" cy="507.6" r="4.9"/><circle cx="1142.5" cy="531.1" r="4.9"/><circle cx="1155.6" cy="505.2" r="4.9"/><circle cx="1158.1" cy="510.1" r="4.9"/><circle cx="1161.7" cy="497.9" r="4.9"/><circle cx="1166.6" cy="495.4" r="4.9"/><circle cx="1171.5" cy="493.6" r="4.9"/><circle cx="1175.2" cy="494.2" r="4.9"/><circle cx="1183.7" cy="490.5" r="4.9"/><circle cx="1176.3" cy="493.0" r="4.9"/><circle cx="1183.6" cy="490.5" r="4.9"/><circle cx="1199.5" cy="480.5" r="4.9"/><circle cx="1200.2" cy="482.6" r="4.9"/><circle cx="1211.7" cy="476.9" r="4.9"/><circle cx="1210.2" cy="466.8" r="4.9"/><circle cx="1214.5" cy="460.3" r="4.9"/><circle cx="1221.7" cy="467.5" r="4.9"/><circle cx="1227.5" cy="458.9" r="4.9"/><circle cx="1230.3" cy="464.7" r="4.9"/><circle cx="1224.6" cy="463.2" r="4.9"/><circle cx="1239.7" cy="448.1" r="4.9"/><circle cx="1249.0" cy="437.4" r="4.9"/><circle cx="1250.5" cy="444.5" r="4.9"/><circle cx="1249.0" cy="451.0" r="4.9"/><circle cx="1253.3" cy="450.3" r="4.9"/><circle cx="1254.8" cy="432.3" r="4.9"/><circle cx="1259.1" cy="434.5" r="4.9"/><circle cx="1263.4" cy="432.3" r="4.9"/><circle cx="1263.1" cy="421.3" r="4.9"/><circle cx="1269.1" cy="405.7" r="4.9"/><circle cx="1272.8" cy="404.3" r="4.9"/><circle cx="1281.4" cy="410.3" r="4.9"/><circle cx="1281.4" cy="414.7" r="4.9"/><circle cx="1286.6" cy="394.5" r="4.9"/><circle cx="1295.2" cy="369.8" r="4.9"/><circle cx="1293.8" cy="375.9" r="4.9"/><circle cx="1299.5" cy="359.0" r="4.9"/><circle cx="1313.8" cy="357.2" r="4.9"/><circle cx="1299.5" cy="349.1" r="4.9"/><circle cx="1306.4" cy="350.0" r="4.9"/><circle cx="1308.1" cy="338.8" r="4.9"/><circle cx="1312.4" cy="336.2" r="4.9"/><circle cx="1315.9" cy="335.3" r="4.9"/><circle cx="1310.7" cy="344.0" r="4.9"/><circle cx="1310.7" cy="325.0" r="4.9"/><circle cx="1315.9" cy="321.6" r="4.9"/><circle cx="1321.0" cy="326.7" r="4.9"/><circle cx="1321.9" cy="299.0" r="4.9"/><circle cx="1320.6" cy="284.3" r="4.9"/><circle cx="1328.9" cy="270.2" r="4.9"/><circle cx="1328.9" cy="252.1" r="4.9"/><circle cx="1333.3" cy="258.5" r="4.9"/><circle cx="1341.4" cy="233.4" r="4.9"/><circle cx="1337.9" cy="235.4" r="4.9"/><circle cx="1338.4" cy="223.9" r="4.9"/><circle cx="1340.4" cy="199.2" r="4.9"/><circle cx="1344.0" cy="197.8" r="4.9"/><circle cx="1342.0" cy="185.1" r="4.9"/><circle cx="878.2" cy="558.6" r="4.9"/><circle cx="917.8" cy="557.5" r="4.9"/><circle cx="939.3" cy="554.0" r="4.9"/><circle cx="989.0" cy="542.8" r="4.9"/><circle cx="974.3" cy="546.2" r="4.9"/><circle cx="904.2" cy="557.5" r="4.9"/><circle cx="859.7" cy="563.0" r="4.9"/><circle cx="862.9" cy="561.6" r="4.9"/><circle cx="870.1" cy="558.0" r="4.9"/><circle cx="875.9" cy="557.3" r="4.9"/><circle cx="883.8" cy="555.1" r="4.9"/><circle cx="888.8" cy="560.2" r="4.9"/><circle cx="897.4" cy="555.9" r="4.9"/><circle cx="901.7" cy="553.7" r="4.9"/><circle cx="905.3" cy="558.7" r="4.9"/><circle cx="908.9" cy="550.8" r="4.9"/><circle cx="918.2" cy="557.3" r="4.9"/><circle cx="924.7" cy="550.8" r="4.9"/><circle cx="934.2" cy="549.8" r="4.9"/><circle cx="936.6" cy="556.1" r="4.9"/><circle cx="946.9" cy="549.8" r="4.9"/><circle cx="954.8" cy="546.6" r="4.9"/><circle cx="961.9" cy="549.0" r="4.9"/><circle cx="969.0" cy="546.6" r="4.9"/><circle cx="970.6" cy="550.5" r="4.9"/><circle cx="976.1" cy="544.6" r="4.9"/><circle cx="984.8" cy="543.4" r="4.9"/><circle cx="995.0" cy="541.1" r="4.9"/><circle cx="1005.3" cy="544.2" r="4.9"/><circle cx="1015.1" cy="543.1" r="4.9"/><circle cx="1017.2" cy="534.5" r="4.9"/><circle cx="1025.5" cy="531.6" r="4.9"/><circle cx="1025.1" cy="538.8" r="4.9"/><circle cx="1035.2" cy="540.9" r="4.9"/><circle cx="1037.4" cy="535.9" r="4.9"/><circle cx="1048.9" cy="527.3" r="4.9"/><circle cx="1053.5" cy="537.7" r="4.9"/><circle cx="1067.5" cy="523.7" r="4.9"/><circle cx="1069.0" cy="530.9" r="4.9"/><circle cx="1074.7" cy="528.7" r="4.9"/><circle cx="1089.8" cy="528.0" r="4.9"/><circle cx="1095.5" cy="526.6" r="4.9"/><circle cx="1132.4" cy="511.3" r="4.9"/><circle cx="1132.4" cy="525.9" r="4.9"/><circle cx="1142.2" cy="530.8" r="4.9"/><circle cx="1155.6" cy="533.3" r="4.9"/><circle cx="1158.1" cy="538.1" r="4.9"/><circle cx="1163.0" cy="533.3" r="4.9"/><circle cx="1169.1" cy="534.5" r="4.9"/><circle cx="1175.2" cy="535.7" r="4.9"/><circle cx="1182.5" cy="539.4" r="4.9"/><circle cx="1170.0" cy="534.7" r="4.9"/><circle cx="1174.0" cy="535.9" r="4.9"/><circle cx="1183.4" cy="538.7" r="4.9"/><circle cx="1200.0" cy="541.1" r="4.9"/><circle cx="1210.3" cy="537.9" r="4.9"/><circle cx="1215.8" cy="538.7" r="4.9"/><circle cx="1211.1" cy="545.0" r="4.9"/><circle cx="1222.1" cy="545.8" r="4.9"/><circle cx="1228.5" cy="545.0" r="4.9"/><circle cx="1232.4" cy="548.2" r="4.9"/><circle cx="1239.5" cy="546.6" r="4.9"/><circle cx="1249.0" cy="549.0" r="4.9"/><circle cx="1253.7" cy="552.1" r="4.9"/><circle cx="1255.3" cy="546.6" r="4.9"/><circle cx="1250.4" cy="551.0" r="4.9"/><circle cx="1261.7" cy="552.4" r="4.9"/><circle cx="1277.2" cy="553.8" r="4.9"/><circle cx="1253.2" cy="548.7" r="4.9"/><circle cx="1253.2" cy="553.5" r="4.9"/><circle cx="1265.8" cy="546.3" r="4.9"/><circle cx="1272.9" cy="547.9" r="4.9"/><circle cx="1273.7" cy="555.0" r="4.9"/><circle cx="1281.6" cy="555.8" r="4.9"/><circle cx="1287.2" cy="552.7" r="4.9"/><circle cx="1294.3" cy="553.5" r="4.9"/><circle cx="1299.8" cy="551.1" r="4.9"/><circle cx="1306.1" cy="556.6" r="4.9"/><circle cx="1313.2" cy="561.4" r="4.9"/><circle cx="1320.4" cy="553.5" r="4.9"/><circle cx="1328.3" cy="555.0" r="4.9"/><circle cx="1328.3" cy="559.8" r="4.9"/><circle cx="1341.7" cy="558.2" r="4.9"/><circle cx="1342.5" cy="562.9" r="4.9"/></g><g fill="#ff7f0e"><circle cx="867.0" cy="173.6" r="4.9"/><circle cx="870.9" cy="216.5" r="4.9"/><circle cx="890.0" cy="250.8" r="4.9"/><circle cx="893.9" cy="289.6" r="4.9"/><circle cx="881.0" cy="297.8" r="4.9"/><circle cx="913.1" cy="358.5" r="4.9"/><circle cx="925.7" cy="374.6" r="4.9"/><circle cx="937.5" cy="389.0" r="4.9"/><circle cx="939.7" cy="411.2" r="4.9"/><circle cx="953.8" cy="443.4" r="4.9"/><circle cx="986.8" cy="452.0" r="4.9"/><circle cx="989.0" cy="462.1" r="4.9"/><circle cx="1006.2" cy="461.8" r="4.9"/><circle cx="1019.1" cy="481.2" r="4.9"/><circle cx="1029.9" cy="490.9" r="4.9"/><circle cx="1042.8" cy="487.6" r="4.9"/><circle cx="1062.9" cy="501.0" r="4.9"/><circle cx="1080.5" cy="507.4" r="4.9"/><circle cx="1080.5" cy="516.8" r="4.9"/><circle cx="1093.4" cy="501.7" r="4.9"/><circle cx="1093.4" cy="508.9" r="4.9"/><circle cx="1105.9" cy="517.4" r="4.9"/><circle cx="1105.9" cy="523.9" r="4.9"/><circle cx="1138.9" cy="496.6" r="4.9"/><circle cx="1148.2" cy="496.6" r="4.9"/><circle cx="1138.9" cy="523.9" r="4.9"/><circle cx="1148.2" cy="523.9" r="4.9"/><circle cx="1184.4" cy="474.0" r="4.9"/><circle cx="1190.8" cy="475.4" r="4.9"/><circle cx="1195.1" cy="467.5" r="4.9"/><circle cx="1200.2" cy="466.1" r="4.9"/><circle cx="1218.9" cy="455.3" r="4.9"/><circle cx="1227.2" cy="445.7" r="4.9"/><circle cx="1239.7" cy="424.7" r="4.9"/><circle cx="1262.0" cy="409.3" r="4.9"/><circle cx="1269.1" cy="415.8" r="4.9"/><circle cx="1285.3" cy="379.7" r="4.9"/><circle cx="1298.3" cy="343.4" r="4.9"/><circle cx="1310.2" cy="290.3" r="4.9"/><circle cx="1320.8" cy="267.0" r="4.9"/><circle cx="1333.9" cy="228.4" r="4.9"/><circle cx="1332.3" cy="205.8" r="4.9"/><circle cx="870.5" cy="562.3" r="4.9"/><circle cx="866.5" cy="568.1" r="4.9"/><circle cx="871.5" cy="568.8" r="4.9"/><circle cx="881.2" cy="569.9" r="4.9"/><circle cx="889.9" cy="556.6" r="4.9"/><circle cx="893.8" cy="558.4" r="4.9"/><circle cx="912.8" cy="555.1" r="4.9"/><circle cx="925.8" cy="559.1" r="4.9"/><circle cx="935.9" cy="551.2" r="4.9"/><circle cx="940.4" cy="551.2" r="4.9"/><circle cx="954.0" cy="554.9" r="4.9"/><circle cx="985.6" cy="545.0" r="4.9"/><circle cx="990.1" cy="543.9" r="4.9"/><circle cx="1006.5" cy="539.9" r="4.9"/><circle cx="1019.4" cy="538.4" r="4.9"/><circle cx="1030.2" cy="538.8" r="4.9"/><circle cx="1043.1" cy="534.8" r="4.9"/><circle cx="1062.9" cy="529.8" r="4.9"/><circle cx="1184.8" cy="531.8" r="4.9"/><circle cx="1190.5" cy="540.3" r="4.9"/><circle cx="1195.3" cy="537.9" r="4.9"/><circle cx="1200.0" cy="537.1" r="4.9"/><circle cx="1219.0" cy="543.0" r="4.9"/><circle cx="1226.9" cy="552.9" r="4.9"/><circle cx="1239.9" cy="542.3" r="4.9"/><circle cx="1259.7" cy="549.0" r="4.9"/><circle cx="1261.9" cy="548.7" r="4.9"/><circle cx="1269.0" cy="553.5" r="4.9"/><circle cx="1285.6" cy="556.2" r="4.9"/><circle cx="1298.2" cy="559.8" r="4.9"/><circle cx="1310.1" cy="553.1" r="4.9"/><circle cx="1320.4" cy="561.4" r="4.9"/><circle cx="1332.2" cy="558.2" r="4.9"/><circle cx="1333.8" cy="567.7" r="4.9"/></g>
<line x1="82.75" y1="30.00" x2="82.75" y2="603.00" stroke="#000" stroke-width="2" stroke-linecap="butt"/><line x1="81.75" y1="602.00" x2="669.80" y2="602.00" stroke="#000" stroke-width="2" stroke-linecap="butt"/><line x1="74.05" y1="602.00" x2="82.75" y2="602.00" stroke="#000" stroke-width="2" stroke-linecap="butt"/><text transform="translate(62.00,610.30) scale(0.9000,1)" text-anchor="end" font-size="28.3" font-weight="normal" stroke="#000" stroke-width="0.35">0</text><line x1="74.05" y1="411.67" x2="82.75" y2="411.67" stroke="#000" stroke-width="2" stroke-linecap="butt"/><text transform="translate(62.00,419.97) scale(0.9000,1)" text-anchor="end" font-size="28.3" font-weight="normal" stroke="#000" stroke-width="0.35">2</text><line x1="74.05" y1="221.33" x2="82.75" y2="221.33" stroke="#000" stroke-width="2" stroke-linecap="butt"/><text transform="translate(62.00,229.63) scale(0.9000,1)" text-anchor="end" font-size="28.3" font-weight="normal" stroke="#000" stroke-width="0.35">4</text><line x1="74.05" y1="31.00" x2="82.75" y2="31.00" stroke="#000" stroke-width="2" stroke-linecap="butt"/><text transform="translate(62.00,39.30) scale(0.9000,1)" text-anchor="end" font-size="28.3" font-weight="normal" stroke="#000" stroke-width="0.35">6</text><line x1="82.75" y1="602.00" x2="82.75" y2="610.70" stroke="#000" stroke-width="2" stroke-linecap="butt"/><text transform="translate(82.75,642.30) scale(0.9000,1)" text-anchor="middle" font-size="28.3" font-weight="normal" stroke="#000" stroke-width="0.35">0</text><line x1="229.26" y1="602.00" x2="229.26" y2="610.70" stroke="#000" stroke-width="2" stroke-linecap="butt"/><text transform="translate(229.26,642.30) scale(0.9000,1)" text-anchor="middle" font-size="28.3" font-weight="normal" stroke="#000" stroke-width="0.35">2</text><line x1="375.77" y1="602.00" x2="375.77" y2="610.70" stroke="#000" stroke-width="2" stroke-linecap="butt"/><text transform="translate(375.77,642.30) scale(0.9000,1)" text-anchor="middle" font-size="28.3" font-weight="normal" stroke="#000" stroke-width="0.35">4</text><line x1="522.29" y1="602.00" x2="522.29" y2="610.70" stroke="#000" stroke-width="2" stroke-linecap="butt"/><text transform="translate(522.29,642.30) scale(0.9000,1)" text-anchor="middle" font-size="28.3" font-weight="normal" stroke="#000" stroke-width="0.35">6</text><line x1="668.80" y1="602.00" x2="668.80" y2="610.70" stroke="#000" stroke-width="2" stroke-linecap="butt"/><text transform="translate(668.80,642.30) scale(0.9000,1)" text-anchor="middle" font-size="28.3" font-weight="normal" stroke="#000" stroke-width="0.35">8</text><line x1="812.30" y1="29.70" x2="812.30" y2="603.00" stroke="#000" stroke-width="2" stroke-linecap="butt"/><line x1="811.30" y1="602.00" x2="1399.20" y2="602.00" stroke="#000" stroke-width="2" stroke-linecap="butt"/><line x1="803.60" y1="602.00" x2="812.30" y2="602.00" stroke="#000" stroke-width="2" stroke-linecap="butt"/><text transform="translate(792.00,610.30) scale(0.9000,1)" text-anchor="end" font-size="28.3" font-weight="normal" stroke="#000" stroke-width="0.35">0</text><line x1="803.60" y1="459.13" x2="812.30" y2="459.13" stroke="#000" stroke-width="2" stroke-linecap="butt"/><text transform="translate(792.00,467.43) scale(0.9000,1)" text-anchor="end" font-size="28.3" font-weight="normal" stroke="#000" stroke-width="0.35">5</text><line x1="803.60" y1="316.27" x2="812.30" y2="316.27" stroke="#000" stroke-width="2" stroke-linecap="butt"/><text transform="translate(792.00,324.57) scale(0.9300,1)" text-anchor="end" font-size="28.3" font-weight="normal" stroke="#000" stroke-width="0.35">10</text><line x1="803.60" y1="173.40" x2="812.30" y2="173.40" stroke="#000" stroke-width="2" stroke-linecap="butt"/><text transform="translate(792.00,181.70) scale(0.9300,1)" text-anchor="end" font-size="28.3" font-weight="normal" stroke="#000" stroke-width="0.35">15</text><line x1="812.30" y1="602.00" x2="812.30" y2="610.70" stroke="#000" stroke-width="2" stroke-linecap="butt"/><text transform="translate(812.30,642.40) scale(0.9400,1)" text-anchor="middle" font-size="28.3" font-weight="normal" stroke="#000" stroke-width="0.35">0.0</text><line x1="929.48" y1="602.00" x2="929.48" y2="610.70" stroke="#000" stroke-width="2" stroke-linecap="butt"/><text transform="translate(929.48,642.40) scale(0.9400,1)" text-anchor="middle" font-size="28.3" font-weight="normal" stroke="#000" stroke-width="0.35">0.2</text><line x1="1046.66" y1="602.00" x2="1046.66" y2="610.70" stroke="#000" stroke-width="2" stroke-linecap="butt"/><text transform="translate(1046.66,642.40) scale(0.9400,1)" text-anchor="middle" font-size="28.3" font-weight="normal" stroke="#000" stroke-width="0.35">0.4</text><line x1="1163.84" y1="602.00" x2="1163.84" y2="610.70" stroke="#000" stroke-width="2" stroke-linecap="butt"/><text transform="translate(1163.84,642.40) scale(0.9400,1)" text-anchor="middle" font-size="28.3" font-weight="normal" stroke="#000" stroke-width="0.35">0.6</text><line x1="1281.02" y1="602.00" x2="1281.02" y2="610.70" stroke="#000" stroke-width="2" stroke-linecap="butt"/><text transform="translate(1281.02,642.40) scale(0.9400,1)" text-anchor="middle" font-size="28.3" font-weight="normal" stroke="#000" stroke-width="0.35">0.8</text><line x1="1398.20" y1="602.00" x2="1398.20" y2="610.70" stroke="#000" stroke-width="2" stroke-linecap="butt"/><text transform="translate(1398.20,642.40) scale(0.9400,1)" text-anchor="middle" font-size="28.3" font-weight="normal" stroke="#000" stroke-width="0.35">1.0</text><text transform="translate(19.80,316.00) rotate(-90) scale(0.9241,1)" text-anchor="middle" font-size="29.4" font-weight="normal" stroke="#000" stroke-width="0.35">Mean duration (s)</text><text transform="translate(737.40,316.00) rotate(-90) scale(0.9241,1)" text-anchor="middle" font-size="29.4" font-weight="normal" stroke="#000" stroke-width="0.35">Mean duration (s)</text><text transform="translate(279.50,689.70) scale(0.9241,1)" text-anchor="start" font-size="29.4" font-weight="normal" stroke="#000" stroke-width="0.35">Drive (mV ms</text><path d="M442.7 672.1H453" stroke="#000" stroke-width="1.8"/><path d="M459.2 677.4V664.2M459.6 664.6C459 666.6 457.6 667.4 455.4 667.6" stroke="#000" stroke-width="1.9" fill="none"/><text transform="translate(464.20,689.70) scale(0.9241,1)" text-anchor="start" font-size="29.4" font-weight="normal" stroke="#000" stroke-width="0.35">)</text><text transform="translate(1044.50,690.00) scale(0.9096,1)" text-anchor="start" font-size="29.4" font-weight="normal" stroke="#000" stroke-width="0.35">Fraction B</text><text transform="translate(901.70,173.60) scale(0.9173,1)" text-anchor="start" font-size="29.4" font-weight="normal" stroke="#000" stroke-width="0.35">Percept A</text><text transform="translate(1192.80,173.90) scale(0.9048,1)" text-anchor="start" font-size="29.4" font-weight="normal" stroke="#000" stroke-width="0.35">Percept B</text><text transform="translate(0.00,30.50)" text-anchor="start" font-size="41" font-weight="bold">a</text><text transform="translate(716.50,30.50)" text-anchor="start" font-size="41" font-weight="bold">b</text>
</svg>
</body></html>
